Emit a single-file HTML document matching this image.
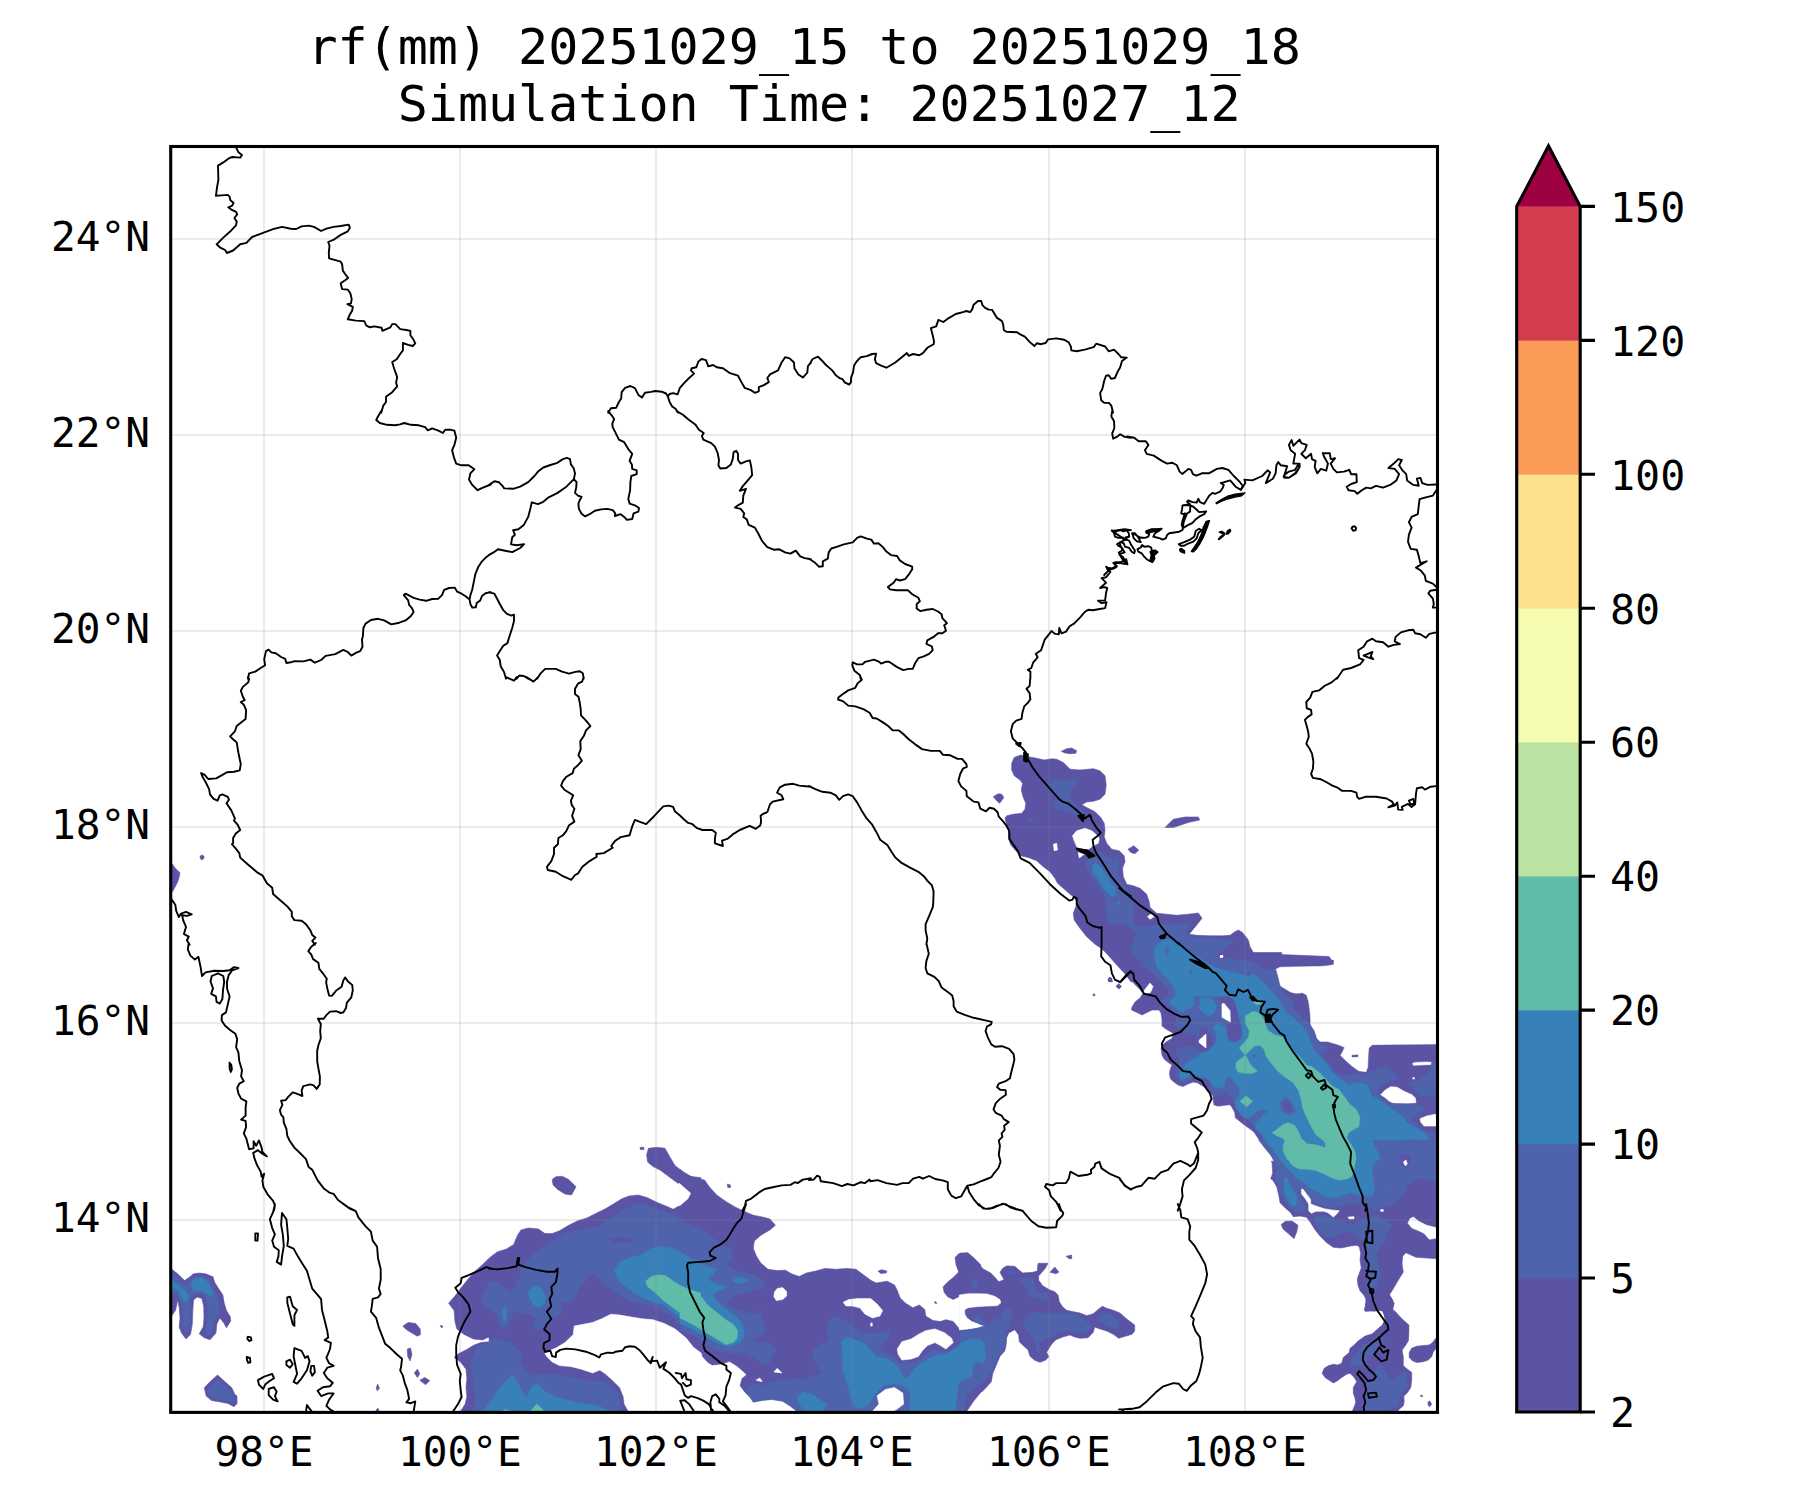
<!DOCTYPE html>
<html lang="en"><head><meta charset="utf-8"><title>rf(mm) 20251029_15 to 20251029_18</title>
<style>html,body{margin:0;padding:0;background:#fff}body{width:1800px;height:1500px;overflow:hidden}svg{display:block}text{font-family:"DejaVu Sans Mono","Liberation Mono",monospace;fill:#000}</style></head><body>
<svg width="1800" height="1500" viewBox="0 0 1800 1500">
<rect width="1800" height="1500" fill="#fff"/>
<defs><clipPath id="ax"><rect x="170.7" y="146.5" width="1266.8" height="1265.9"/></clipPath></defs>
<g clip-path="url(#ax)">
<path d="M1014.2 757.5L1020.8 755.0L1028.3 756.7L1036.7 758.3L1044.2 760.0L1051.7 758.8L1056.7 759.2L1063.3 762.5L1070.0 769.2L1080.0 770.0L1093.3 768.7L1100.0 770.8L1105.0 775.8L1106.2 785.0L1105.0 794.2L1100.0 799.2L1093.3 801.3L1086.7 802.0L1081.7 804.7L1086.7 807.5L1095.0 811.7L1100.8 817.5L1104.2 823.3L1105.0 830.0L1104.2 836.7L1106.7 843.3L1111.7 849.2L1119.2 850.8L1124.2 855.8L1125.0 861.7L1122.5 868.3L1123.3 876.7L1126.7 884.2L1133.3 885.8L1140.0 888.3L1146.7 894.2L1149.2 901.7L1150.0 907.5L1156.7 913.3L1166.7 914.2L1176.7 915.3L1188.3 914.2L1198.3 913.0L1202.0 918.3L1196.7 925.0L1189.2 934.2L1196.7 935.3L1210.0 935.8L1223.3 935.8L1230.0 935.3L1235.0 931.7L1238.3 930.0L1242.5 932.5L1248.3 940.0L1250.0 946.7L1253.3 952.5L1263.3 952.5L1281.7 952.5L1281.7 981.7L1130.8 981.7L1125.0 973.7L1118.3 966.7L1111.7 959.2L1105.0 951.7L1100.8 948.0L1095.0 944.2L1086.7 936.7L1080.0 928.3L1074.2 920.0L1073.3 913.3L1075.8 906.7L1076.7 901.7L1074.2 897.5L1070.0 894.2L1063.3 888.3L1057.5 883.3L1055.0 878.3L1050.0 871.7L1043.3 866.7L1036.7 860.8L1028.3 857.5L1020.8 855.8L1015.8 850.8L1010.8 845.0L1008.3 838.3L1009.2 831.7L1006.7 825.0L1005.0 818.3L1006.7 815.8L1013.3 814.2L1021.7 813.3L1025.0 809.2L1025.8 803.3L1023.0 796.7L1021.3 790.0L1022.5 783.3L1020.0 780.0L1014.2 775.8L1011.7 770.0L1011.7 763.3Z" fill="#5b53a4" stroke="#5b53a4" stroke-width="0.6" stroke-linejoin="round"/>
<path d="M1061.3 751.3L1066.7 748.7L1071.7 748.0L1076.7 750.8L1075.8 753.3L1070.0 753.7L1065.0 753.0Z" fill="#5b53a4" stroke="#5b53a4" stroke-width="0.6" stroke-linejoin="round"/>
<path d="M993.3 796.7L998.3 793.8L1001.7 794.2L1003.8 797.5L999.7 803.3L996.7 800.8Z" fill="#5b53a4" stroke="#5b53a4" stroke-width="0.6" stroke-linejoin="round"/>
<path d="M1165.0 827.5L1173.3 819.2L1185.0 817.0L1198.3 817.0L1199.7 820.0L1188.3 822.5L1180.0 825.3L1173.3 827.5Z" fill="#5b53a4" stroke="#5b53a4" stroke-width="0.6" stroke-linejoin="round"/>
<path d="M1128.0 849.2L1133.7 845.8L1138.7 850.0L1135.0 853.7L1130.8 852.5Z" fill="#5b53a4" stroke="#5b53a4" stroke-width="0.6" stroke-linejoin="round"/>
<path d="M1108.3 980.0L1109.2 977.5L1111.7 979.2L1112.5 981.7L1108.3 981.7Z" fill="#5b53a4" stroke="#5b53a4" stroke-width="0.6" stroke-linejoin="round"/>
<path d="M1200.0 960.0L1440.0 960.0L1440.0 1160.0L1200.0 1160.0Z" fill="#5b53a4"/>
<path d="M1255.3 1140.0L1436.7 1140.0L1436.7 1258.7L1426.7 1258.0L1416.0 1257.3L1406.0 1252.7L1402.7 1256.0L1402.0 1264.0L1403.3 1272.0L1400.0 1277.3L1396.0 1284.0L1392.0 1290.7L1389.3 1294.7L1392.7 1300.0L1393.3 1306.7L1392.0 1311.3L1397.3 1316.0L1404.0 1321.3L1408.7 1325.3L1408.0 1333.3L1408.0 1340.7L1361.3 1340.7L1365.3 1336.0L1372.0 1334.0L1377.3 1329.3L1382.7 1324.7L1386.0 1319.3L1383.3 1311.3L1378.7 1310.0L1374.7 1310.7L1365.3 1311.3L1365.3 1305.3L1366.7 1300.0L1364.0 1294.7L1360.0 1290.7L1358.0 1285.3L1357.3 1278.7L1359.3 1273.3L1361.3 1268.0L1360.0 1260.0L1360.7 1253.3L1359.3 1246.7L1356.7 1245.3L1350.7 1246.0L1341.3 1248.0L1333.3 1247.3L1326.7 1242.7L1320.0 1236.0L1314.7 1229.3L1310.7 1222.7L1306.7 1217.3L1300.0 1216.0L1293.3 1216.7L1290.7 1212.7L1285.3 1208.0L1280.0 1202.7L1278.7 1194.7L1276.7 1186.7L1272.7 1180.0L1270.7 1178.7L1272.7 1173.3L1272.0 1162.7L1269.3 1156.0L1262.7 1149.3L1258.7 1144.0Z" fill="#5b53a4" stroke="#5b53a4" stroke-width="0.6" stroke-linejoin="round"/>
<path d="M1281.1 1224.7L1285.3 1221.3L1292.0 1221.1L1298.0 1225.3L1296.7 1232.0L1294.0 1238.7L1288.0 1233.3L1283.3 1229.3Z" fill="#5b53a4" stroke="#5b53a4" stroke-width="0.6" stroke-linejoin="round"/>
<path d="M1360.0 1290.0L1392.1 1290.0L1389.2 1294.2L1391.7 1299.2L1394.2 1303.3L1392.5 1309.2L1395.8 1312.1L1400.0 1316.7L1405.0 1321.7L1408.8 1325.0L1408.8 1333.3L1408.3 1340.8L1405.8 1345.0L1402.1 1350.0L1403.3 1356.7L1403.3 1365.8L1407.5 1369.2L1411.7 1372.5L1411.7 1380.0L1410.8 1387.5L1407.5 1392.5L1403.8 1396.2L1404.2 1401.7L1403.3 1405.8L1399.2 1409.2L1396.7 1412.5L1351.7 1412.5L1354.2 1406.7L1355.8 1402.5L1355.0 1398.3L1353.3 1393.3L1353.3 1387.5L1356.7 1381.7L1354.2 1377.5L1350.0 1373.3L1346.7 1374.2L1341.7 1377.5L1336.7 1381.2L1333.3 1382.9L1330.0 1380.8L1325.0 1377.5L1322.1 1373.3L1324.2 1368.3L1328.3 1365.8L1333.3 1364.2L1337.5 1365.0L1341.7 1363.3L1343.3 1357.5L1349.2 1352.5L1350.0 1348.3L1354.2 1345.0L1358.3 1340.8L1364.2 1336.7L1369.2 1335.4L1373.3 1335.0L1377.5 1330.8L1382.5 1325.8L1383.3 1323.3L1385.0 1319.2L1384.2 1315.0L1382.5 1310.8L1379.2 1310.0L1375.0 1311.2L1370.8 1310.8L1365.0 1310.8L1364.2 1310.0L1365.8 1305.0L1365.8 1298.3L1363.3 1294.2Z" fill="#5b53a4" stroke="#5b53a4" stroke-width="0.6" stroke-linejoin="round"/>
<path d="M1437.5 1336.7L1435.8 1338.3L1432.5 1342.5L1429.2 1345.0L1424.2 1345.4L1416.7 1346.2L1411.7 1348.3L1409.2 1352.5L1409.2 1357.5L1412.5 1360.8L1416.7 1362.5L1423.3 1361.7L1428.3 1360.0L1431.7 1356.7L1433.3 1351.7L1436.2 1348.3L1437.5 1347.5Z" fill="#5b53a4" stroke="#5b53a4" stroke-width="0.6" stroke-linejoin="round"/>
<path d="M1420.0 1396.2L1421.5 1394.8L1422.9 1396.7Z" fill="#5b53a4" stroke="#5b53a4" stroke-width="0.6" stroke-linejoin="round"/>
<path d="M1427.9 1402.5L1429.6 1400.8L1431.7 1404.2L1429.6 1406.7L1428.3 1405.4Z" fill="#5b53a4" stroke="#5b53a4" stroke-width="0.6" stroke-linejoin="round"/>
<path d="M1119.0 965.0L1125.0 972.0L1130.0 979.0L1134.0 983.5L1140.0 989.5L1143.0 993.5L1140.0 998.0L1135.0 1002.0L1132.0 1007.0L1131.5 1010.0L1136.0 1012.0L1142.0 1015.0L1146.0 1013.0L1152.0 1010.0L1159.0 1010.0L1161.0 1013.0L1162.0 1019.0L1162.0 1026.0L1166.0 1029.0L1170.0 1031.5L1173.0 1033.0L1172.0 1038.5L1166.0 1042.0L1163.0 1044.5L1161.0 1048.0L1162.0 1055.0L1164.0 1059.0L1169.0 1063.0L1172.0 1065.0L1170.0 1070.0L1169.5 1074.0L1170.5 1079.0L1174.0 1082.0L1178.0 1085.0L1183.0 1086.5L1188.0 1084.0L1193.0 1082.0L1198.0 1083.0L1200.5 1085.0L1200.5 965.0Z" fill="#5b53a4" stroke="#5b53a4" stroke-width="0.6" stroke-linejoin="round"/>
<path d="M1108.0 979.5L1110.0 977.0L1112.0 978.5L1111.5 981.5L1109.5 981.5Z" fill="#5b53a4" stroke="#5b53a4" stroke-width="0.6" stroke-linejoin="round"/>
<path d="M1116.0 986.5L1118.5 983.5L1121.5 986.5L1119.0 989.0Z" fill="#5b53a4" stroke="#5b53a4" stroke-width="0.6" stroke-linejoin="round"/>
<path d="M1093.0 994.0L1094.8 994.0L1094.8 995.8L1093.0 995.8Z" fill="#5b53a4" stroke="#5b53a4" stroke-width="0.6" stroke-linejoin="round"/>
<path d="M700.7 1177.6L691.6 1176.7L682.4 1171.2L675.1 1165.7L669.6 1156.5L665.0 1148.3L656.7 1147.3L648.5 1148.3L646.6 1154.7L647.6 1162.0L653.1 1166.6L660.4 1170.3L667.7 1175.8L675.1 1181.3L683.3 1186.8L690.6 1193.2L687.9 1198.7L680.6 1205.1L673.2 1209.3L665.9 1206.0L656.7 1202.3L647.6 1197.8L638.4 1195.0L629.2 1195.9L621.9 1198.7L614.5 1203.3L605.4 1208.8L596.2 1213.3L587.0 1217.9L577.9 1220.7L568.7 1225.3L559.5 1230.8L552.2 1233.5L544.9 1233.5L538.4 1228.9L528.4 1228.0L521.0 1229.9L517.4 1235.4L513.7 1244.5L506.4 1249.1L497.2 1251.9L489.9 1257.4L482.5 1264.7L475.2 1271.1L467.8 1279.4L460.5 1288.5L455.0 1295.9L448.6 1303.2L454.1 1310.5L455.0 1321.5L456.8 1328.9L464.2 1334.4L473.3 1339.0L482.5 1339.9L488.9 1337.1L489.3 1341.7L480.7 1342.6L473.3 1345.4L466.0 1350.0L458.7 1353.6L454.1 1357.3L460.5 1361.9L466.0 1369.2L466.9 1378.4L466.0 1387.6L466.9 1396.7L465.1 1404.1L460.5 1411.4L700.7 1411.4Z" fill="#5b53a4" stroke="#5b53a4" stroke-width="0.6" stroke-linejoin="round"/>
<path d="M552.2 1179.4L555.9 1176.7L562.3 1176.3L568.7 1179.4L576.0 1186.8L571.5 1195.0L565.0 1194.1L557.7 1189.5L553.1 1184.9Z" fill="#5b53a4" stroke="#5b53a4" stroke-width="0.6" stroke-linejoin="round"/>
<path d="M640.2 1147.3L643.9 1147.3L643.9 1149.5L640.2 1149.5Z" fill="#5b53a4" stroke="#5b53a4" stroke-width="0.6" stroke-linejoin="round"/>
<path d="M402.8 1326.1L408.3 1322.5L415.6 1323.4L420.2 1328.9L420.5 1334.4L417.4 1336.2L411.0 1332.5L405.5 1328.9Z" fill="#5b53a4" stroke="#5b53a4" stroke-width="0.6" stroke-linejoin="round"/>
<path d="M440.0 1325.6L443.1 1326.1L441.8 1328.0Z" fill="#5b53a4" stroke="#5b53a4" stroke-width="0.6" stroke-linejoin="round"/>
<path d="M407.3 1349.0L410.6 1348.1L411.9 1354.5L410.1 1361.0L407.7 1356.4Z" fill="#5b53a4" stroke="#5b53a4" stroke-width="0.6" stroke-linejoin="round"/>
<path d="M414.3 1372.9L417.4 1369.2L419.8 1373.8L417.4 1377.5Z" fill="#5b53a4" stroke="#5b53a4" stroke-width="0.6" stroke-linejoin="round"/>
<path d="M419.8 1380.2L424.8 1377.5L429.7 1380.6L425.7 1384.8Z" fill="#5b53a4" stroke="#5b53a4" stroke-width="0.6" stroke-linejoin="round"/>
<path d="M680.0 1169.3L687.3 1175.8L696.5 1177.6L704.8 1180.3L709.3 1186.8L716.7 1195.0L725.8 1201.4L735.0 1206.9L742.3 1210.6L753.3 1215.2L762.5 1217.0L769.9 1218.9L775.4 1225.3L769.9 1229.9L760.7 1235.4L754.3 1240.9L753.3 1248.2L756.1 1255.5L760.7 1262.9L768.0 1269.3L777.2 1270.6L785.4 1270.2L791.9 1273.9L799.2 1276.6L806.5 1272.9L815.7 1271.1L824.9 1268.4L835.9 1269.3L846.9 1268.4L856.0 1269.3L863.4 1274.8L870.7 1280.3L876.2 1283.0L887.2 1281.2L894.5 1284.9L897.3 1290.4L900.0 1297.7L905.6 1303.2L912.9 1307.8L919.3 1305.0L924.8 1309.6L925.7 1316.0L933.1 1320.6L940.4 1321.5L945.9 1319.7L953.2 1321.5L958.7 1328.0L966.1 1328.9L973.4 1327.0L980.7 1326.1L980.7 1411.4L680.0 1411.4Z" fill="#5b53a4" stroke="#5b53a4" stroke-width="0.6" stroke-linejoin="round"/>
<path d="M955.1 1257.4L958.7 1253.7L967.9 1252.8L973.4 1257.4L980.7 1264.7L980.7 1295.9L973.4 1294.0L966.1 1295.0L958.7 1296.8L953.2 1299.5L947.7 1296.8L944.1 1292.2L943.1 1286.7L947.7 1282.1L953.2 1277.5L958.7 1272.0L956.0 1264.7Z" fill="#5b53a4" stroke="#5b53a4" stroke-width="0.6" stroke-linejoin="round"/>
<path d="M964.2 1310.5L969.7 1306.9L980.7 1306.0L980.7 1322.5L971.6 1321.5L966.1 1317.0Z" fill="#5b53a4" stroke="#5b53a4" stroke-width="0.6" stroke-linejoin="round"/>
<path d="M878.0 1271.1L881.7 1269.8L886.8 1271.1L886.3 1272.9L880.8 1273.5Z" fill="#5b53a4" stroke="#5b53a4" stroke-width="0.6" stroke-linejoin="round"/>
<path d="M727.3 1184.0L730.4 1184.9L730.4 1187.7L727.7 1187.3Z" fill="#5b53a4" stroke="#5b53a4" stroke-width="0.6" stroke-linejoin="round"/>
<path d="M934.0 1302.8L935.8 1301.4L936.7 1303.6Z" fill="#5b53a4" stroke="#5b53a4" stroke-width="0.6" stroke-linejoin="round"/>
<path d="M717.6 1388.5L720.7 1384.8L724.0 1388.5L720.7 1392.1Z" fill="#5b53a4" stroke="#5b53a4" stroke-width="0.6" stroke-linejoin="round"/>
<path d="M960.0 1253.0L967.3 1253.0L974.7 1260.3L983.3 1269.0L990.7 1273.0L995.3 1277.7L998.7 1281.7L1004.0 1279.7L1000.0 1272.3L1002.7 1268.3L1006.7 1265.9L1014.7 1266.3L1018.7 1269.7L1022.7 1273.0L1032.7 1272.3L1037.3 1271.0L1038.0 1263.3L1048.0 1263.3L1045.3 1268.3L1041.3 1273.0L1038.7 1275.7L1038.7 1280.3L1042.7 1285.7L1049.3 1289.7L1054.7 1291.7L1058.0 1295.0L1059.3 1301.7L1062.7 1307.0L1066.7 1310.3L1073.3 1311.7L1080.0 1313.0L1086.7 1315.7L1093.3 1313.7L1098.7 1309.0L1102.4 1306.3L1106.7 1308.3L1113.3 1310.3L1120.0 1313.0L1126.7 1319.0L1134.7 1325.0L1134.7 1331.0L1132.0 1334.3L1125.3 1336.3L1118.7 1338.3L1113.3 1334.3L1106.7 1331.0L1100.0 1329.0L1094.7 1327.0L1093.3 1332.3L1088.0 1337.7L1080.0 1338.3L1074.7 1337.0L1070.0 1335.0L1062.7 1337.0L1056.0 1339.7L1052.0 1343.7L1048.0 1349.7L1046.7 1352.3L1048.7 1357.0L1045.3 1360.3L1040.0 1362.3L1034.7 1360.3L1030.0 1356.3L1028.0 1349.7L1023.3 1345.7L1019.3 1341.7L1018.7 1335.0L1014.7 1329.7L1008.7 1333.0L1006.7 1337.7L1006.0 1345.7L1004.7 1351.0L1000.0 1356.3L996.0 1365.7L992.7 1373.7L991.3 1381.7L986.7 1387.0L980.0 1393.7L974.7 1400.3L969.3 1408.3L966.7 1411.7L960.0 1411.7Z" fill="#5b53a4" stroke="#5b53a4" stroke-width="0.6" stroke-linejoin="round"/>
<path d="M1066.0 1256.3L1071.7 1255.0L1071.7 1258.7L1069.3 1258.7Z" fill="#5b53a4" stroke="#5b53a4" stroke-width="0.6" stroke-linejoin="round"/>
<path d="M1050.0 1272.3L1054.7 1267.0L1058.9 1272.1L1056.0 1273.7Z" fill="#5b53a4" stroke="#5b53a4" stroke-width="0.6" stroke-linejoin="round"/>
<path d="M168.0 1265.5L171.8 1269.2L178.5 1274.5L184.5 1280.5L189.0 1277.5L193.5 1273.8L199.5 1273.0L205.5 1273.8L213.0 1276.8L214.5 1282.0L218.2 1288.0L222.8 1294.8L224.2 1303.0L226.5 1310.5L230.2 1316.5L230.7 1321.0L226.5 1327.8L223.5 1322.5L219.8 1318.0L216.8 1324.0L216.0 1333.0L210.0 1339.8L204.0 1337.5L199.2 1333.8L203.2 1327.0L204.0 1318.0L203.7 1306.0L201.8 1298.5L197.2 1297.0L193.5 1300.0L192.8 1310.5L192.3 1324.0L190.5 1334.5L186.0 1339.0L181.5 1333.0L179.2 1327.0L180.0 1318.0L179.2 1307.5L177.8 1300.0L175.5 1310.5L171.8 1315.8L168.0 1318.0Z" fill="#5b53a4" stroke="#5b53a4" stroke-width="0.6" stroke-linejoin="round"/>
<path d="M204.3 1387.8L210.0 1381.8L217.5 1375.0L225.0 1381.8L231.8 1387.8L234.8 1394.5L237.0 1396.0L237.0 1403.5L234.0 1406.8L228.0 1403.5L220.5 1402.0L211.5 1400.5L206.2 1396.0Z" fill="#5b53a4" stroke="#5b53a4" stroke-width="0.6" stroke-linejoin="round"/>
<path d="M376.2 1387.8L377.7 1384.0L379.5 1388.5L377.2 1390.8Z" fill="#5b53a4" stroke="#5b53a4" stroke-width="0.6" stroke-linejoin="round"/>
<path d="M375.8 1411.0L377.7 1408.0L379.2 1411.0Z" fill="#5b53a4" stroke="#5b53a4" stroke-width="0.6" stroke-linejoin="round"/>
<path d="M169.0 861.3L172.3 864.0L175.7 868.7L180.0 872.7L179.0 878.0L177.3 882.7L175.0 887.3L172.3 892.0L169.0 894.0Z" fill="#5b53a4" stroke="#5b53a4" stroke-width="0.6" stroke-linejoin="round"/>
<path d="M200.0 856.3L202.0 854.8L204.0 856.3L204.0 858.3L202.0 860.0L200.2 858.5Z" fill="#5b53a4" stroke="#5b53a4" stroke-width="0.6" stroke-linejoin="round"/>
<path d="M1250.0 953.0L1287.0 954.8L1329.0 956.5L1333.5 962.5L1322.0 965.0L1287.0 966.5L1275.0 970.0L1250.0 970.0Z" fill="#5b53a4" stroke="#5b53a4" stroke-width="0.6" stroke-linejoin="round"/>
<path d="M1072.5 835.8L1076.7 830.8L1085.0 828.3L1091.7 830.8L1096.7 835.0L1099.2 838.3L1098.3 843.3L1093.3 845.8L1088.3 849.2L1081.7 849.2L1076.7 846.7L1074.2 840.8Z" fill="#ffffff" stroke="#ffffff" stroke-width="0.6" stroke-linejoin="round"/>
<path d="M1078.3 852.5L1084.2 854.2L1079.2 858.0Z" fill="#ffffff" stroke="#ffffff" stroke-width="0.6" stroke-linejoin="round"/>
<path d="M1053.3 844.2L1056.7 843.3L1057.5 850.0L1054.2 850.8Z" fill="#ffffff" stroke="#ffffff" stroke-width="0.6" stroke-linejoin="round"/>
<path d="M1147.5 916.7L1151.7 913.3L1154.2 916.7L1150.0 919.2Z" fill="#ffffff" stroke="#ffffff" stroke-width="0.6" stroke-linejoin="round"/>
<path d="M1220.0 955.8L1222.5 955.3L1222.5 957.5L1220.3 957.5Z" fill="#ffffff" stroke="#ffffff" stroke-width="0.6" stroke-linejoin="round"/>
<path d="M1220.3 955.9L1222.8 955.3L1223.0 957.1L1220.9 957.5Z" fill="#ffffff" stroke="#ffffff" stroke-width="0.6" stroke-linejoin="round"/>
<path d="M1334.0 959.3L1334.0 964.7L1326.7 966.0L1320.0 966.4L1306.7 966.7L1293.3 966.9L1280.0 967.3L1274.7 970.0L1272.7 973.3L1274.0 978.7L1277.3 984.0L1282.7 987.3L1290.7 992.0L1296.0 993.3L1302.7 992.7L1306.7 994.9L1308.7 1001.3L1310.0 1010.7L1310.7 1018.7L1310.7 1025.3L1314.7 1030.7L1317.3 1038.7L1320.0 1041.3L1328.0 1041.6L1338.7 1044.7L1344.7 1047.3L1342.7 1052.0L1340.7 1055.3L1345.3 1060.0L1352.0 1066.0L1358.7 1070.7L1366.0 1071.7L1367.7 1066.7L1368.0 1056.0L1368.7 1048.0L1372.0 1044.7L1386.7 1044.4L1400.0 1044.3L1436.0 1044.0L1441.3 1044.0L1441.3 959.3Z" fill="#ffffff" stroke="#ffffff" stroke-width="0.6" stroke-linejoin="round"/>
<path d="M1412.7 1063.3L1416.0 1062.4L1426.7 1062.0L1436.7 1062.7L1436.7 1064.3L1426.7 1064.7L1413.3 1065.3Z" fill="#ffffff" stroke="#ffffff" stroke-width="0.6" stroke-linejoin="round"/>
<path d="M1412.9 1077.6L1414.4 1077.6L1414.4 1079.1L1412.9 1079.1Z" fill="#ffffff" stroke="#ffffff" stroke-width="0.6" stroke-linejoin="round"/>
<path d="M1380.7 1094.7L1385.3 1090.0L1390.7 1086.7L1397.3 1087.3L1404.0 1091.3L1412.0 1094.7L1415.3 1098.0L1416.0 1102.7L1408.0 1103.3L1393.3 1102.9L1389.3 1101.3L1384.7 1097.3Z" fill="#ffffff" stroke="#ffffff" stroke-width="0.6" stroke-linejoin="round"/>
<path d="M1420.0 1118.7L1426.7 1116.0L1436.7 1114.0L1436.7 1126.0L1424.0 1126.0L1420.7 1122.0Z" fill="#ffffff" stroke="#ffffff" stroke-width="0.6" stroke-linejoin="round"/>
<path d="M1199.3 1084.7L1205.3 1088.0L1212.3 1096.0L1213.3 1105.3L1218.0 1106.7L1230.0 1105.3L1234.0 1112.0L1234.9 1118.0L1244.0 1125.3L1253.3 1132.0L1258.7 1140.0L1265.3 1149.3L1272.0 1157.3L1274.7 1160.7L1199.3 1160.7Z" fill="#ffffff" stroke="#ffffff" stroke-width="0.6" stroke-linejoin="round"/>
<path d="M1222.0 1004.0L1224.0 1003.3L1230.0 1010.7L1230.4 1022.0L1222.0 1017.3Z" fill="#ffffff" stroke="#ffffff" stroke-width="0.6" stroke-linejoin="round"/>
<path d="M1199.3 1040.0L1206.0 1034.0L1206.0 1048.0L1199.3 1042.7Z" fill="#ffffff" stroke="#ffffff" stroke-width="0.6" stroke-linejoin="round"/>
<path d="M1235.7 1032.7L1238.0 1032.7L1238.0 1034.3L1235.7 1034.3Z" fill="#ffffff" stroke="#ffffff" stroke-width="0.6" stroke-linejoin="round"/>
<path d="M1301.3 1189.3L1303.3 1188.7L1309.3 1194.7L1310.7 1200.0L1310.7 1204.0L1316.0 1206.0L1324.0 1208.7L1332.0 1210.0L1339.3 1210.7L1336.0 1214.7L1333.3 1217.1L1328.0 1212.7L1324.0 1211.3L1316.0 1211.3L1311.3 1213.3L1308.7 1210.7L1308.7 1204.0L1305.3 1198.7L1301.6 1194.0Z" fill="#ffffff" stroke="#ffffff" stroke-width="0.6" stroke-linejoin="round"/>
<path d="M1348.0 1217.1L1354.0 1216.7L1354.0 1218.7L1349.3 1218.9Z" fill="#ffffff" stroke="#ffffff" stroke-width="0.6" stroke-linejoin="round"/>
<path d="M1380.7 1209.6L1383.3 1209.6L1383.3 1211.3L1380.7 1211.3Z" fill="#ffffff" stroke="#ffffff" stroke-width="0.6" stroke-linejoin="round"/>
<path d="M1408.0 1223.3L1410.0 1218.7L1413.3 1217.1L1418.7 1221.3L1426.7 1225.3L1437.3 1228.0L1437.3 1238.0L1429.3 1239.3L1424.0 1233.3L1418.7 1230.7L1412.0 1228.0Z" fill="#ffffff" stroke="#ffffff" stroke-width="0.6" stroke-linejoin="round"/>
<path d="M1143.0 992.0L1150.0 983.0L1153.0 986.5L1150.5 992.5L1146.0 993.5Z" fill="#ffffff" stroke="#ffffff" stroke-width="0.6" stroke-linejoin="round"/>
<path d="M546.7 1356.4L552.2 1361.9L559.5 1365.6L570.5 1366.5L581.5 1369.2L592.5 1372.9L599.9 1370.1L605.4 1373.8L612.7 1380.2L620.0 1387.6L623.7 1396.7L624.6 1404.1L629.2 1412.3L701.7 1412.3L701.7 1353.6L693.4 1347.2L686.1 1338.0L675.1 1328.9L664.1 1323.4L653.1 1319.7L642.1 1318.8L631.1 1317.0L620.0 1315.1L610.9 1314.2L601.7 1318.8L592.5 1322.5L583.4 1324.3L574.2 1326.1L573.3 1334.4L565.0 1342.6L555.9 1348.1L548.5 1350.9L544.9 1353.6Z" fill="#ffffff" stroke="#ffffff" stroke-width="0.6" stroke-linejoin="round"/>
<path d="M679.1 1339.9L689.2 1343.5L694.7 1350.9L702.0 1356.4L707.5 1362.8L712.1 1365.6L722.2 1364.6L729.5 1361.9L736.8 1366.5L743.3 1372.0L746.0 1374.7L741.4 1378.4L739.6 1385.7L744.2 1392.1L749.7 1397.6L753.3 1402.2L762.5 1400.4L771.7 1399.5L782.7 1401.3L790.0 1405.9L797.4 1412.3L679.1 1412.3Z" fill="#ffffff" stroke="#ffffff" stroke-width="0.6" stroke-linejoin="round"/>
<path d="M774.4 1292.2L777.2 1288.5L782.7 1287.6L786.4 1291.3L786.7 1295.9L782.7 1299.5L776.3 1300.5L773.9 1296.8Z" fill="#ffffff" stroke="#ffffff" stroke-width="0.6" stroke-linejoin="round"/>
<path d="M843.2 1302.3L848.7 1299.5L857.9 1298.6L870.7 1298.6L877.1 1304.1L882.6 1310.5L879.9 1316.0L872.5 1317.9L865.2 1314.2L859.7 1307.8L852.4 1306.0L846.0 1306.0Z" fill="#ffffff" stroke="#ffffff" stroke-width="0.6" stroke-linejoin="round"/>
<path d="M870.7 1323.0L872.2 1323.0L872.2 1326.1L870.7 1326.1Z" fill="#ffffff" stroke="#ffffff" stroke-width="0.6" stroke-linejoin="round"/>
<path d="M897.3 1349.0L901.9 1341.7L911.1 1339.0L918.4 1334.4L925.7 1330.7L934.9 1328.9L944.1 1332.5L951.4 1338.0L953.2 1342.6L945.9 1349.0L940.4 1345.4L934.9 1342.6L927.6 1345.4L922.1 1350.9L918.4 1356.4L911.1 1359.1L901.9 1360.0L898.2 1354.5Z" fill="#ffffff" stroke="#ffffff" stroke-width="0.6" stroke-linejoin="round"/>
<path d="M773.9 1372.0L777.2 1368.3L781.8 1372.9Z" fill="#ffffff" stroke="#ffffff" stroke-width="0.6" stroke-linejoin="round"/>
<path d="M756.1 1380.2L759.8 1378.0L762.2 1381.7Z" fill="#ffffff" stroke="#ffffff" stroke-width="0.6" stroke-linejoin="round"/>
<path d="M679.1 1183.1L683.3 1186.8L690.6 1193.2L687.9 1198.7L680.6 1205.1L679.1 1206.0Z" fill="#ffffff" stroke="#ffffff" stroke-width="0.6" stroke-linejoin="round"/>
<path d="M981.7 1392.1L974.7 1400.4L969.4 1408.3L966.6 1412.3L981.7 1412.3Z" fill="#ffffff" stroke="#ffffff" stroke-width="0.6" stroke-linejoin="round"/>
<path d="M959.3 1295.0L968.0 1293.7L977.3 1293.7L986.7 1293.9L994.7 1296.3L1000.0 1299.7L1000.7 1303.0L997.3 1305.7L986.7 1306.1L976.0 1306.7L968.0 1307.7L964.7 1309.7L964.7 1313.7L966.7 1317.7L972.0 1321.7L980.0 1324.3L984.7 1325.7L977.3 1327.7L968.0 1329.0L959.3 1329.9Z" fill="#ffffff" stroke="#ffffff" stroke-width="0.6" stroke-linejoin="round"/>
<path d="M1049.2 783.3L1053.3 780.0L1061.7 779.2L1070.8 779.7L1078.3 780.8L1077.5 784.2L1072.5 786.7L1070.0 791.7L1070.0 798.3L1073.3 803.3L1080.0 809.2L1086.7 815.0L1085.0 817.5L1078.3 815.8L1070.0 811.7L1060.0 810.0L1053.3 808.3L1051.7 803.3L1056.7 800.0L1051.7 793.3L1048.3 788.3Z" fill="#4e63ac" stroke="#4e63ac" stroke-width="0.6" stroke-linejoin="round"/>
<path d="M1028.3 820.0L1030.8 817.5L1033.7 819.7L1031.3 822.2Z" fill="#4e63ac" stroke="#4e63ac" stroke-width="0.6" stroke-linejoin="round"/>
<path d="M1084.7 863.0L1088.3 859.3L1094.4 854.4L1099.3 852.6L1106.7 856.9L1112.8 859.3L1118.3 858.4L1119.5 861.8L1118.3 869.1L1118.9 876.4L1122.6 883.8L1127.4 889.9L1132.3 896.0L1133.8 903.3L1133.6 915.6L1133.6 922.9L1138.4 926.6L1148.2 926.6L1155.6 925.3L1162.9 923.5L1173.9 924.7L1186.1 923.5L1191.0 924.1L1187.3 930.2L1186.1 933.9L1192.2 937.6L1210.6 937.6L1228.9 940.0L1233.8 940.6L1227.7 946.1L1220.3 952.2L1216.7 955.9L1221.6 959.6L1228.9 957.1L1233.8 959.6L1241.1 963.2L1253.3 963.2L1259.4 968.1L1265.6 970.6L1271.7 969.3L1275.3 968.1L1277.8 976.7L1280.2 986.4L1285.1 996.2L1176.3 996.2L1173.9 990.1L1169.0 984.0L1162.9 976.7L1155.6 970.6L1145.8 964.4L1138.4 959.6L1132.3 954.7L1131.1 947.3L1133.6 940.0L1136.6 932.7L1131.1 927.8L1125.0 924.7L1118.9 924.1L1110.3 922.9L1106.7 918.0L1106.1 909.4L1106.7 900.9L1103.0 893.6L1096.9 885.0L1092.0 877.7L1087.1 869.1Z" fill="#4e63ac" stroke="#4e63ac" stroke-width="0.6" stroke-linejoin="round"/>
<path d="M1352.0 1055.3L1358.0 1054.9L1358.0 1056.7L1352.0 1056.9Z" fill="#5b53a4" stroke="#5b53a4" stroke-width="0.6" stroke-linejoin="round"/>
<path d="M1200.0 960.0L1246.7 960.0L1253.3 962.7L1258.7 965.3L1262.7 969.3L1266.7 976.0L1270.7 981.3L1274.7 986.7L1280.0 992.0L1286.7 996.0L1292.0 1000.0L1293.3 1005.3L1294.7 1010.7L1298.7 1014.7L1302.7 1018.7L1306.7 1020.7L1310.7 1025.3L1313.3 1030.7L1316.0 1038.7L1318.7 1042.7L1324.0 1045.3L1328.0 1048.0L1325.3 1050.7L1322.0 1054.7L1326.7 1060.0L1331.3 1065.3L1333.3 1070.7L1337.3 1072.7L1342.0 1076.0L1348.0 1074.7L1357.3 1074.0L1365.3 1075.3L1373.3 1071.3L1382.0 1066.9L1389.3 1069.3L1393.3 1072.7L1398.0 1076.7L1396.7 1079.6L1390.0 1081.3L1384.0 1084.0L1380.0 1088.0L1378.0 1092.7L1380.7 1096.0L1386.0 1100.7L1390.0 1104.0L1400.0 1104.0L1413.3 1104.0L1422.0 1105.3L1426.0 1109.3L1420.0 1113.3L1411.3 1116.7L1414.7 1122.0L1420.0 1126.7L1422.7 1130.0L1426.7 1132.0L1436.7 1132.0L1436.7 1160.0L1276.7 1160.0L1272.0 1153.3L1266.7 1145.3L1261.3 1137.3L1256.0 1130.7L1253.3 1125.3L1249.3 1120.0L1244.0 1117.3L1240.0 1110.7L1236.0 1104.0L1232.0 1097.3L1226.7 1093.3L1220.0 1094.7L1214.7 1096.0L1211.3 1092.0L1209.3 1086.7L1210.0 1082.0L1205.3 1079.3L1200.0 1078.0Z" fill="#4e63ac" stroke="#4e63ac" stroke-width="0.6" stroke-linejoin="round"/>
<path d="M1408.7 1083.3L1420.0 1078.7L1429.3 1073.3L1432.0 1061.3L1436.7 1058.7L1436.7 1094.7L1429.3 1096.7L1422.0 1096.7L1415.3 1091.3Z" fill="#4e63ac" stroke="#4e63ac" stroke-width="0.6" stroke-linejoin="round"/>
<path d="M1258.7 1140.0L1264.0 1146.7L1270.7 1154.7L1274.7 1162.7L1276.7 1170.7L1274.7 1178.7L1278.7 1186.7L1281.3 1196.0L1285.3 1202.7L1292.0 1209.3L1296.0 1212.7L1302.7 1212.0L1306.7 1209.3L1304.0 1204.0L1300.0 1196.0L1298.7 1189.3L1302.7 1188.0L1310.7 1198.7L1316.0 1204.0L1325.3 1206.7L1333.3 1208.0L1341.3 1205.3L1350.7 1202.7L1360.0 1204.0L1368.0 1206.7L1373.3 1212.0L1380.0 1208.0L1386.7 1206.7L1393.3 1204.0L1400.0 1198.7L1405.3 1193.3L1406.0 1185.3L1413.3 1181.3L1421.3 1178.0L1429.3 1180.0L1436.7 1182.7L1436.7 1140.0Z" fill="#4e63ac" stroke="#4e63ac" stroke-width="0.6" stroke-linejoin="round"/>
<path d="M1314.0 1217.3L1320.0 1214.7L1328.0 1216.0L1334.7 1218.7L1344.0 1221.3L1350.7 1225.3L1357.3 1222.7L1364.0 1218.7L1370.7 1216.0L1376.0 1214.7L1384.0 1218.7L1392.0 1225.3L1386.7 1233.3L1384.0 1241.3L1380.0 1246.7L1376.0 1254.7L1378.7 1262.7L1380.0 1270.7L1380.0 1278.7L1377.3 1286.7L1373.3 1293.3L1369.3 1292.0L1368.0 1285.3L1366.7 1276.0L1366.7 1266.7L1368.0 1257.3L1365.3 1249.3L1365.3 1241.3L1360.0 1238.7L1354.7 1233.3L1349.3 1232.0L1341.3 1233.3L1333.3 1237.3L1326.7 1238.0L1320.0 1232.0L1316.0 1225.3Z" fill="#4e63ac" stroke="#4e63ac" stroke-width="0.6" stroke-linejoin="round"/>
<path d="M1349.2 1364.2L1351.7 1359.2L1357.5 1351.7L1365.0 1344.2L1370.8 1341.2L1375.0 1339.2L1380.0 1337.1L1383.3 1339.2L1386.7 1341.7L1382.5 1344.2L1379.2 1348.3L1375.0 1351.7L1370.8 1355.8L1366.7 1359.2L1365.8 1363.3L1363.3 1365.0L1358.3 1365.4L1353.3 1365.0Z" fill="#4e63ac" stroke="#4e63ac" stroke-width="0.6" stroke-linejoin="round"/>
<path d="M1373.3 1370.0L1377.5 1366.7L1380.8 1365.0L1383.3 1368.3L1385.8 1372.5L1388.3 1380.0L1391.7 1380.0L1398.3 1375.0L1405.8 1372.1L1406.7 1377.5L1407.5 1385.8L1404.2 1390.0L1400.0 1395.0L1399.2 1400.8L1397.5 1405.8L1393.3 1408.3L1388.3 1410.0L1383.3 1412.5L1365.0 1412.5L1365.0 1405.0L1365.8 1398.3L1366.7 1391.7L1365.8 1385.8L1367.5 1381.7L1370.8 1381.7L1375.0 1379.2L1376.7 1375.8L1373.3 1373.3Z" fill="#4e63ac" stroke="#4e63ac" stroke-width="0.6" stroke-linejoin="round"/>
<path d="M1140.0 965.0L1148.0 969.0L1155.0 975.0L1162.0 982.0L1167.5 988.0L1168.5 995.0L1164.0 999.5L1160.0 1000.0L1164.0 1004.0L1170.0 1008.0L1174.0 1012.0L1178.0 1017.0L1175.0 1021.0L1174.0 1025.0L1178.0 1029.0L1184.0 1031.0L1188.0 1033.0L1195.0 1034.0L1199.0 1039.0L1200.5 1041.0L1200.5 965.0Z" fill="#4e63ac" stroke="#4e63ac" stroke-width="0.6" stroke-linejoin="round"/>
<path d="M1177.0 1048.0L1176.0 1052.0L1178.0 1057.0L1180.0 1062.0L1176.0 1068.0L1175.0 1073.0L1177.0 1078.0L1181.0 1082.0L1184.0 1084.0L1188.0 1081.0L1193.0 1078.0L1198.0 1080.0L1200.5 1082.0L1200.5 1050.0L1195.0 1048.0L1185.0 1046.5Z" fill="#4e63ac" stroke="#4e63ac" stroke-width="0.6" stroke-linejoin="round"/>
<path d="M526.5 1261.0L533.9 1253.7L543.0 1248.2L552.2 1242.7L561.4 1235.4L570.5 1231.7L579.7 1229.9L590.7 1228.0L599.9 1226.2L607.2 1220.7L616.4 1215.2L625.6 1208.8L634.7 1205.1L643.9 1204.2L654.9 1208.8L665.9 1212.4L675.1 1215.2L682.4 1220.7L691.6 1226.2L700.7 1229.9L700.7 1336.2L691.6 1330.7L680.6 1325.2L671.4 1316.0L660.4 1310.5L649.4 1305.0L638.4 1303.2L629.2 1301.4L620.0 1295.9L610.9 1288.5L601.7 1281.2L592.5 1273.9L585.2 1279.4L579.7 1286.7L576.0 1295.9L568.7 1301.4L561.4 1303.2L563.2 1310.5L557.7 1316.0L550.4 1317.9L544.9 1325.2L537.5 1330.7L532.0 1325.2L537.5 1317.9L528.4 1314.2L521.0 1312.4L513.7 1310.5L510.0 1321.5L504.5 1330.7L499.0 1325.2L497.2 1314.2L489.9 1308.7L482.5 1303.2L481.6 1295.9L486.2 1286.7L489.9 1281.2L497.2 1281.2L502.7 1286.7L510.0 1292.2L515.5 1286.7L519.2 1277.5L521.0 1268.4Z" fill="#4e63ac" stroke="#4e63ac" stroke-width="0.6" stroke-linejoin="round"/>
<path d="M470.6 1360.0L477.0 1347.2L486.2 1343.5L495.4 1338.0L502.7 1339.9L510.0 1341.7L515.5 1347.2L522.9 1354.5L521.0 1361.9L526.5 1371.1L532.0 1375.6L544.9 1372.9L555.9 1374.7L568.7 1376.6L579.7 1378.4L590.7 1382.1L601.7 1380.2L610.9 1385.7L618.2 1393.1L620.0 1402.2L621.9 1411.4L473.3 1411.4L475.2 1396.7L473.3 1383.9L472.4 1371.1Z" fill="#4e63ac" stroke="#4e63ac" stroke-width="0.6" stroke-linejoin="round"/>
<path d="M680.0 1222.5L691.0 1224.7L700.2 1228.9L709.3 1235.4L718.5 1241.8L727.7 1247.3L733.5 1250.9L732.3 1259.2L725.8 1264.7L731.3 1268.4L742.3 1272.0L753.3 1274.8L762.5 1279.4L764.4 1286.7L757.0 1290.4L746.0 1292.2L735.0 1295.9L727.7 1299.5L725.8 1305.0L735.0 1308.7L746.0 1312.4L755.2 1314.2L760.7 1310.5L762.5 1319.7L765.3 1330.7L760.7 1336.2L753.3 1338.0L757.0 1343.5L766.2 1341.7L773.5 1345.4L776.3 1350.9L771.7 1356.4L769.9 1362.8L766.2 1364.6L757.0 1360.0L747.8 1354.5L740.5 1352.7L731.3 1353.6L722.2 1352.7L713.0 1349.0L705.7 1343.5L698.3 1338.0L691.0 1334.4L680.0 1330.7Z" fill="#4e63ac" stroke="#4e63ac" stroke-width="0.6" stroke-linejoin="round"/>
<path d="M747.8 1387.6L753.3 1383.9L762.5 1385.7L771.7 1382.1L782.7 1380.2L793.7 1378.4L804.7 1379.3L812.0 1376.6L821.2 1372.9L817.5 1365.6L812.0 1358.2L813.9 1349.0L821.2 1345.4L828.5 1339.9L826.7 1330.7L828.5 1321.5L832.2 1316.0L841.4 1318.8L850.5 1323.4L856.0 1328.9L863.4 1332.5L872.5 1333.5L881.7 1332.5L890.0 1331.6L889.0 1338.0L881.7 1343.5L879.9 1349.0L887.2 1352.7L894.5 1356.4L900.0 1362.8L911.1 1362.8L920.2 1360.0L927.6 1352.7L934.9 1349.0L942.2 1352.7L949.6 1350.9L956.9 1345.4L962.4 1339.9L969.7 1334.4L980.7 1330.7L980.7 1384.3L973.4 1388.3L968.1 1392.3L965.3 1401.7L964.0 1411.6L797.4 1411.4L790.0 1405.9L782.7 1401.3L771.7 1399.5L762.5 1400.4L753.3 1402.2L749.7 1396.7L746.9 1391.2Z" fill="#4e63ac" stroke="#4e63ac" stroke-width="0.6" stroke-linejoin="round"/>
<path d="M971.6 1280.3L975.2 1279.4L978.0 1286.7L974.3 1288.5Z" fill="#4e63ac" stroke="#4e63ac" stroke-width="0.6" stroke-linejoin="round"/>
<path d="M972.5 1316.0L977.1 1314.2L980.7 1316.0L980.7 1320.6L975.2 1320.6Z" fill="#4e63ac" stroke="#4e63ac" stroke-width="0.6" stroke-linejoin="round"/>
<path d="M1006.0 1271.7L1012.0 1271.0L1015.3 1273.0L1010.7 1274.3Z" fill="#4e63ac" stroke="#4e63ac" stroke-width="0.6" stroke-linejoin="round"/>
<path d="M971.3 1279.7L976.0 1279.0L978.7 1287.0L974.7 1288.3Z" fill="#4e63ac" stroke="#4e63ac" stroke-width="0.6" stroke-linejoin="round"/>
<path d="M1019.3 1279.7L1025.3 1277.7L1032.0 1277.4L1034.0 1281.7L1034.7 1287.0L1038.7 1292.3L1044.0 1293.7L1048.0 1294.3L1048.0 1302.3L1041.3 1299.7L1034.7 1298.3L1029.3 1295.7L1027.3 1289.7L1024.0 1284.3Z" fill="#4e63ac" stroke="#4e63ac" stroke-width="0.6" stroke-linejoin="round"/>
<path d="M1023.3 1325.7L1026.0 1319.0L1029.3 1313.7L1036.0 1312.3L1045.3 1313.7L1053.3 1313.0L1061.3 1313.0L1070.7 1313.7L1078.7 1315.0L1084.0 1319.7L1089.3 1324.3L1091.3 1327.7L1088.0 1331.7L1082.7 1333.0L1076.0 1332.3L1069.3 1330.3L1062.7 1331.7L1056.0 1334.3L1049.3 1337.7L1042.7 1340.3L1038.7 1343.7L1040.0 1349.7L1038.7 1354.3L1036.0 1349.7L1035.3 1343.0L1032.0 1336.3L1026.7 1331.0Z" fill="#4e63ac" stroke="#4e63ac" stroke-width="0.6" stroke-linejoin="round"/>
<path d="M1096.0 1317.7L1100.0 1314.3L1103.3 1312.3L1109.3 1314.3L1116.0 1318.3L1120.0 1323.0L1119.3 1327.0L1114.7 1328.3L1108.0 1326.3L1101.3 1323.0Z" fill="#4e63ac" stroke="#4e63ac" stroke-width="0.6" stroke-linejoin="round"/>
<path d="M972.7 1319.0L973.3 1316.3L978.7 1319.7L984.7 1321.0L986.7 1325.7L993.3 1320.3L1000.0 1317.7L1002.7 1311.0L1006.7 1307.0L1012.0 1310.3L1011.3 1319.0L1009.3 1325.7L1006.7 1331.0L1005.3 1337.7L1004.7 1345.7L1002.7 1351.0L998.7 1355.0L994.7 1364.3L991.3 1372.3L986.7 1379.0L980.0 1384.3L973.3 1388.3L968.0 1392.3L965.3 1401.7L964.0 1411.7L960.0 1411.7L960.0 1332.3L968.0 1330.3L977.3 1328.3L984.7 1325.9L980.0 1324.3L974.7 1321.7Z" fill="#4e63ac" stroke="#4e63ac" stroke-width="0.6" stroke-linejoin="round"/>
<path d="M168.0 1270.0L171.8 1273.0L178.5 1279.0L184.5 1285.0L190.5 1279.0L196.5 1276.0L204.0 1276.8L210.0 1280.5L213.0 1288.0L217.5 1295.5L219.8 1303.0L219.0 1310.5L216.0 1318.0L213.0 1325.5L211.5 1333.0L208.5 1336.0L205.5 1331.5L207.0 1321.0L207.8 1307.5L205.5 1297.0L201.0 1293.2L195.0 1294.0L191.2 1298.5L189.8 1307.5L189.8 1321.0L188.2 1330.0L185.2 1332.2L183.0 1327.0L183.0 1315.0L181.5 1304.5L179.2 1297.0L175.5 1294.0L171.8 1294.0L168.0 1297.0Z" fill="#4e63ac" stroke="#4e63ac" stroke-width="0.6" stroke-linejoin="round"/>
<path d="M207.8 1390.0L213.0 1384.0L217.5 1380.2L223.5 1384.0L229.5 1390.0L233.2 1396.0L234.8 1402.0L229.5 1401.2L222.0 1399.8L213.0 1398.2L208.5 1394.5Z" fill="#4e63ac" stroke="#4e63ac" stroke-width="0.6" stroke-linejoin="round"/>
<path d="M1217.3 994.9L1222.0 993.3L1226.7 995.7L1233.3 999.7L1236.3 1006.7L1237.6 1016.0L1240.3 1024.0L1241.6 1032.0L1240.0 1038.7L1234.9 1041.3L1229.6 1040.0L1226.9 1034.7L1226.3 1026.7L1230.4 1022.0L1230.0 1010.7L1224.0 1003.3L1221.3 1000.0L1218.0 998.7Z" fill="#5b53a4" stroke="#5b53a4" stroke-width="0.6" stroke-linejoin="round"/>
<path d="M1200.0 1029.3L1205.3 1028.0L1210.7 1034.7L1212.7 1041.3L1210.7 1048.0L1206.7 1052.0L1200.0 1053.3Z" fill="#5b53a4" stroke="#5b53a4" stroke-width="0.6" stroke-linejoin="round"/>
<path d="M1400.7 1157.3L1405.3 1153.3L1410.7 1158.0L1408.7 1164.0L1405.3 1168.0L1401.3 1164.0Z" fill="#5b53a4" stroke="#5b53a4" stroke-width="0.6" stroke-linejoin="round"/>
<path d="M608.1 1239.0L616.4 1237.2L632.9 1239.9L631.1 1241.8L614.5 1241.8Z" fill="#5b53a4" stroke="#5b53a4" stroke-width="0.6" stroke-linejoin="round"/>
<path d="M1222.0 1004.0L1224.0 1003.3L1230.0 1010.7L1230.4 1022.0L1222.0 1017.3Z" fill="#ffffff" stroke="#ffffff" stroke-width="0.6" stroke-linejoin="round"/>
<path d="M1199.3 1040.0L1206.0 1034.0L1206.0 1048.0L1199.3 1042.7Z" fill="#ffffff" stroke="#ffffff" stroke-width="0.6" stroke-linejoin="round"/>
<path d="M1403.3 1162.0L1406.0 1160.0L1407.3 1164.0L1405.3 1166.0Z" fill="#ffffff" stroke="#ffffff" stroke-width="0.6" stroke-linejoin="round"/>
<path d="M1092.0 865.4L1095.1 862.8L1099.3 865.4L1104.2 871.6L1109.1 878.9L1112.8 885.0L1115.8 889.9L1115.2 896.0L1111.6 896.6L1106.7 892.3L1101.8 885.0L1096.9 877.7L1093.2 871.6Z" fill="#3880b9" stroke="#3880b9" stroke-width="0.6" stroke-linejoin="round"/>
<path d="M1117.1 902.7L1118.9 900.9L1120.1 903.3L1118.6 905.8Z" fill="#3880b9" stroke="#3880b9" stroke-width="0.6" stroke-linejoin="round"/>
<path d="M1154.3 947.3L1158.0 943.7L1162.9 940.6L1167.8 939.4L1173.9 941.2L1180.0 944.9L1187.3 949.8L1194.7 954.7L1202.0 959.6L1209.3 964.4L1216.7 968.1L1224.0 970.6L1231.3 972.4L1241.1 974.2L1248.4 976.7L1253.3 974.2L1257.0 976.7L1261.9 981.6L1268.0 987.7L1271.7 992.6L1273.5 996.2L1176.9 996.2L1175.1 988.9L1170.2 981.6L1164.1 975.4L1158.0 969.3L1155.6 962.0L1154.3 954.7Z" fill="#3880b9" stroke="#3880b9" stroke-width="0.6" stroke-linejoin="round"/>
<path d="M1200.0 960.0L1208.0 964.0L1216.7 968.0L1231.3 972.4L1248.0 976.7L1253.3 974.0L1257.3 976.7L1268.0 987.6L1274.7 994.7L1278.7 1000.0L1282.7 1006.7L1286.7 1013.3L1293.3 1017.3L1298.7 1022.7L1304.0 1028.0L1308.0 1034.7L1310.7 1042.7L1313.3 1049.3L1320.0 1056.0L1326.7 1064.0L1333.3 1073.3L1340.0 1078.7L1348.7 1084.7L1354.7 1083.3L1361.3 1082.9L1368.7 1086.0L1369.6 1091.3L1372.0 1096.0L1380.0 1100.0L1386.7 1105.3L1393.3 1110.0L1403.3 1116.7L1406.0 1122.0L1413.3 1126.0L1420.0 1130.0L1426.7 1134.7L1428.0 1140.0L1413.3 1139.3L1400.0 1140.0L1386.7 1140.0L1372.0 1140.0L1374.7 1146.7L1378.7 1153.3L1380.0 1160.0L1280.0 1160.0L1274.7 1152.0L1268.0 1142.7L1261.3 1133.3L1256.0 1128.0L1254.7 1124.0L1260.0 1118.7L1268.0 1110.7L1262.7 1109.3L1256.0 1112.0L1250.7 1117.3L1245.3 1118.7L1240.0 1113.3L1236.0 1108.0L1234.7 1101.3L1238.7 1096.0L1240.0 1088.0L1234.7 1082.7L1232.0 1078.7L1228.7 1076.0L1225.3 1080.0L1224.0 1086.7L1217.3 1088.0L1212.0 1085.3L1210.7 1080.0L1205.3 1077.3L1200.0 1076.0L1200.0 1053.3L1206.7 1052.0L1210.7 1048.0L1214.7 1045.3L1217.3 1040.0L1215.3 1033.3L1213.3 1026.7L1217.3 1024.0L1222.7 1025.3L1226.7 1029.3L1226.7 1036.0L1229.3 1041.3L1234.7 1042.7L1240.0 1040.0L1242.7 1034.7L1241.3 1026.7L1240.0 1020.0L1237.3 1010.7L1236.0 1004.0L1233.3 998.7L1226.7 994.7L1221.3 992.0L1217.3 991.3L1208.0 993.3L1200.0 996.0Z" fill="#3880b9" stroke="#3880b9" stroke-width="0.6" stroke-linejoin="round"/>
<path d="M1200.0 998.7L1206.7 997.3L1213.3 1000.0L1216.7 1005.3L1214.7 1012.0L1209.3 1016.0L1204.0 1013.3L1200.0 1009.3Z" fill="#3880b9" stroke="#3880b9" stroke-width="0.6" stroke-linejoin="round"/>
<path d="M1265.3 1140.0L1272.0 1148.0L1278.7 1157.3L1285.3 1166.7L1290.7 1172.0L1296.0 1177.3L1304.0 1182.7L1312.0 1189.3L1320.0 1193.3L1328.0 1197.3L1336.0 1198.0L1344.0 1194.7L1350.7 1192.7L1357.3 1194.7L1365.3 1196.7L1373.3 1194.7L1374.7 1189.3L1373.3 1180.0L1372.0 1170.7L1374.7 1162.7L1378.7 1156.0L1376.0 1149.3L1373.3 1144.0L1372.0 1140.0Z" fill="#3880b9" stroke="#3880b9" stroke-width="0.6" stroke-linejoin="round"/>
<path d="M1284.0 1178.7L1287.3 1178.0L1289.3 1184.0L1293.3 1190.7L1297.3 1197.3L1296.0 1204.0L1293.3 1206.7L1288.0 1200.0L1284.7 1193.3L1284.0 1185.3Z" fill="#3880b9" stroke="#3880b9" stroke-width="0.6" stroke-linejoin="round"/>
<path d="M1389.3 1186.0L1390.9 1186.7L1390.0 1188.0Z" fill="#3880b9" stroke="#3880b9" stroke-width="0.6" stroke-linejoin="round"/>
<path d="M1155.0 965.0L1160.0 969.0L1165.0 974.0L1170.0 979.0L1175.0 985.0L1175.0 991.0L1176.0 995.0L1172.0 999.0L1169.0 1002.0L1172.0 1005.0L1177.0 1009.0L1182.0 1012.0L1186.0 1009.0L1190.0 1007.5L1194.0 1005.0L1193.0 999.0L1194.0 995.0L1200.5 993.5L1200.5 965.0Z" fill="#3880b9" stroke="#3880b9" stroke-width="0.6" stroke-linejoin="round"/>
<path d="M1190.0 1061.0L1195.0 1058.0L1200.5 1055.0L1200.5 1077.0L1197.0 1075.0L1193.0 1073.0L1190.0 1075.0L1186.0 1078.0L1182.0 1080.0L1179.5 1077.0L1180.0 1073.0L1183.0 1068.0L1186.0 1064.0Z" fill="#3880b9" stroke="#3880b9" stroke-width="0.6" stroke-linejoin="round"/>
<path d="M614.5 1268.4L621.9 1261.0L631.1 1257.4L642.1 1254.6L651.2 1248.2L660.4 1246.4L671.4 1248.2L680.6 1251.9L691.6 1259.2L700.7 1261.0L700.7 1328.9L691.6 1323.4L682.4 1319.7L673.2 1312.4L664.1 1305.0L653.1 1301.4L642.1 1297.7L632.9 1292.2L623.7 1284.9L616.4 1277.5Z" fill="#3880b9" stroke="#3880b9" stroke-width="0.6" stroke-linejoin="round"/>
<path d="M528.4 1292.2L532.0 1286.7L536.6 1284.9L541.2 1288.5L545.8 1295.9L544.9 1303.2L539.4 1307.8L533.9 1305.0L530.2 1299.5Z" fill="#3880b9" stroke="#3880b9" stroke-width="0.6" stroke-linejoin="round"/>
<path d="M502.7 1308.7L504.9 1306.0L506.7 1310.5L506.0 1319.7L504.2 1322.5L502.7 1316.0Z" fill="#3880b9" stroke="#3880b9" stroke-width="0.6" stroke-linejoin="round"/>
<path d="M482.5 1411.4L491.7 1400.4L497.2 1391.2L504.5 1382.1L512.8 1374.7L517.4 1382.1L521.0 1389.4L526.5 1396.7L532.0 1385.7L537.5 1383.9L544.9 1391.2L554.0 1396.7L565.0 1399.5L576.0 1402.2L587.0 1404.1L598.0 1405.9L607.2 1409.6L610.9 1411.4Z" fill="#3880b9" stroke="#3880b9" stroke-width="0.6" stroke-linejoin="round"/>
<path d="M680.0 1253.7L688.3 1259.2L698.3 1262.9L707.5 1266.5L716.7 1268.4L713.0 1273.9L707.5 1279.4L718.5 1284.9L727.7 1286.7L720.3 1290.4L713.0 1294.0L716.7 1301.4L725.8 1308.7L735.0 1316.0L740.5 1321.5L744.2 1328.9L743.3 1338.0L738.7 1343.5L731.3 1346.3L724.0 1345.4L714.8 1341.7L705.7 1336.2L696.5 1331.6L687.3 1327.0L680.0 1323.4Z" fill="#3880b9" stroke="#3880b9" stroke-width="0.6" stroke-linejoin="round"/>
<path d="M732.3 1280.3L736.8 1277.9L743.3 1277.9L747.8 1280.3L743.3 1283.0L735.0 1283.0Z" fill="#3880b9" stroke="#3880b9" stroke-width="0.6" stroke-linejoin="round"/>
<path d="M841.4 1341.7L846.9 1337.1L856.0 1339.9L865.2 1343.5L870.7 1350.9L876.2 1356.4L885.4 1358.2L892.7 1361.9L900.0 1369.2L903.7 1378.4L909.2 1376.6L914.7 1369.2L920.2 1363.7L929.4 1358.2L938.6 1354.5L945.9 1353.6L953.2 1350.0L960.6 1345.4L966.1 1341.3L971.9 1339.0L980.7 1339.7L980.7 1361.9L976.0 1361.0L972.7 1365.7L971.9 1371.1L972.7 1373.6L968.1 1378.4L962.8 1379.3L958.7 1383.9L956.9 1396.7L955.1 1411.4L909.2 1411.4L911.1 1396.7L907.4 1387.6L902.8 1385.7L894.5 1383.9L883.5 1385.7L874.4 1394.9L868.9 1404.1L861.5 1408.6L854.2 1406.8L850.5 1396.7L848.7 1387.6L845.0 1378.4L842.3 1369.2L843.2 1360.0L842.3 1350.9Z" fill="#3880b9" stroke="#3880b9" stroke-width="0.6" stroke-linejoin="round"/>
<path d="M797.4 1396.7L802.9 1392.1L812.0 1394.0L821.2 1400.4L826.7 1404.1L823.0 1411.4L804.7 1411.4L799.2 1404.1Z" fill="#3880b9" stroke="#3880b9" stroke-width="0.6" stroke-linejoin="round"/>
<path d="M960.0 1379.0L960.0 1343.0L965.3 1341.0L972.0 1339.0L980.0 1339.7L984.0 1343.0L984.7 1349.7L986.0 1356.3L984.0 1363.0L976.0 1361.0L972.7 1365.7L972.0 1371.0L972.7 1373.7L968.0 1378.3L962.7 1379.3Z" fill="#3880b9" stroke="#3880b9" stroke-width="0.6" stroke-linejoin="round"/>
<path d="M168.0 1276.0L171.8 1279.0L174.0 1282.0L180.0 1286.5L186.0 1291.0L189.0 1297.0L186.0 1303.0L182.2 1298.5L178.5 1291.0L174.0 1288.0L171.8 1289.5L168.0 1290.2Z" fill="#3880b9" stroke="#3880b9" stroke-width="0.6" stroke-linejoin="round"/>
<path d="M191.2 1283.5L195.0 1279.0L201.0 1277.5L206.2 1280.5L210.0 1286.5L213.0 1292.5L211.5 1297.0L207.0 1294.0L202.5 1291.0L196.5 1291.0L192.8 1289.5Z" fill="#3880b9" stroke="#3880b9" stroke-width="0.6" stroke-linejoin="round"/>
<path d="M1165.3 947.9L1167.8 947.3L1168.8 950.4L1166.6 955.9L1165.1 952.2Z" fill="#4e63ac" stroke="#4e63ac" stroke-width="0.6" stroke-linejoin="round"/>
<path d="M1189.2 971.8L1190.8 969.9L1192.0 972.0L1190.5 973.6Z" fill="#4e63ac" stroke="#4e63ac" stroke-width="0.6" stroke-linejoin="round"/>
<path d="M1253.3 1011.3L1245.3 1016.0L1245.3 1022.7L1249.3 1030.7L1248.7 1037.3L1244.0 1042.7L1239.3 1048.0L1245.3 1055.3L1249.3 1050.7L1254.7 1046.0L1260.0 1045.3L1264.0 1049.3L1266.0 1056.0L1270.7 1062.7L1277.3 1070.7L1285.3 1077.3L1293.3 1082.7L1298.7 1090.7L1301.3 1100.0L1302.7 1108.0L1306.7 1117.3L1312.0 1128.0L1316.0 1134.7L1322.7 1140.0L1326.0 1144.0L1325.3 1148.0L1317.3 1145.3L1306.7 1144.0L1301.3 1138.7L1298.7 1132.0L1294.7 1125.3L1288.0 1122.7L1282.7 1124.7L1277.3 1129.3L1272.0 1132.7L1277.3 1136.0L1284.0 1138.7L1285.3 1142.7L1282.7 1149.3L1285.3 1156.0L1288.0 1160.0L1356.0 1160.0L1353.3 1153.3L1350.7 1146.7L1346.7 1137.3L1349.3 1132.0L1358.7 1126.7L1360.0 1117.3L1356.0 1109.3L1349.3 1104.0L1344.0 1096.0L1338.7 1089.3L1332.0 1086.0L1325.3 1078.7L1318.7 1072.0L1312.0 1066.7L1306.7 1065.3L1301.3 1058.7L1293.3 1050.7L1286.7 1042.7L1282.7 1037.3L1274.7 1034.7L1268.0 1030.7L1265.3 1024.0L1262.7 1017.3L1258.7 1012.7Z" fill="#60bba8" stroke="#60bba8" stroke-width="0.6" stroke-linejoin="round"/>
<path d="M1253.3 1002.7L1258.7 1000.7L1263.3 1001.1L1262.7 1003.3L1257.3 1004.7Z" fill="#60bba8" stroke="#60bba8" stroke-width="0.6" stroke-linejoin="round"/>
<path d="M1236.0 1062.7L1240.0 1059.3L1245.3 1055.3L1246.7 1057.3L1249.3 1062.7L1253.3 1068.0L1257.3 1070.7L1253.3 1073.3L1245.3 1073.3L1238.0 1072.0L1236.0 1068.0Z" fill="#60bba8" stroke="#60bba8" stroke-width="0.6" stroke-linejoin="round"/>
<path d="M1240.0 1101.3L1246.0 1096.0L1252.7 1101.3L1246.7 1106.7Z" fill="#60bba8" stroke="#60bba8" stroke-width="0.6" stroke-linejoin="round"/>
<path d="M1285.3 1140.0L1283.3 1145.3L1285.3 1152.0L1288.7 1160.0L1292.0 1165.3L1298.7 1168.7L1306.7 1169.3L1314.7 1170.0L1322.7 1173.3L1330.7 1177.3L1338.7 1180.0L1345.3 1179.3L1350.7 1177.3L1353.3 1173.3L1354.7 1165.3L1356.0 1157.3L1354.7 1150.7L1350.7 1144.0L1346.7 1140.0L1326.7 1140.0L1326.0 1144.0L1325.3 1148.0L1317.3 1145.3L1306.7 1144.0L1302.7 1140.0Z" fill="#60bba8" stroke="#60bba8" stroke-width="0.6" stroke-linejoin="round"/>
<path d="M1189.0 971.5L1190.5 970.0L1191.8 971.8L1190.3 973.5Z" fill="#4e63ac" stroke="#4e63ac" stroke-width="0.6" stroke-linejoin="round"/>
<path d="M645.7 1281.2L651.2 1276.6L658.6 1274.8L665.9 1275.7L673.2 1281.2L682.4 1286.7L691.6 1290.4L700.7 1293.1L700.7 1321.5L691.6 1318.8L684.2 1316.0L676.9 1310.5L669.6 1305.0L662.2 1299.5L654.9 1292.2L647.6 1286.7Z" fill="#60bba8" stroke="#60bba8" stroke-width="0.6" stroke-linejoin="round"/>
<path d="M530.2 1411.4L536.6 1404.1L544.9 1411.4Z" fill="#60bba8" stroke="#60bba8" stroke-width="0.6" stroke-linejoin="round"/>
<path d="M501.8 1411.4L505.4 1409.6L511.9 1411.4Z" fill="#60bba8" stroke="#60bba8" stroke-width="0.6" stroke-linejoin="round"/>
<path d="M680.0 1286.7L687.3 1289.4L696.5 1292.2L702.0 1297.7L707.5 1305.0L716.7 1312.4L725.8 1319.7L733.2 1324.3L737.8 1330.7L736.8 1339.0L733.2 1342.6L725.8 1344.5L718.5 1339.9L709.3 1334.4L700.2 1328.9L691.0 1323.4L680.0 1317.9Z" fill="#60bba8" stroke="#60bba8" stroke-width="0.6" stroke-linejoin="round"/>
<path d="M874.4 1394.9L883.5 1386.6L894.5 1384.8L905.2 1391.6L906.5 1405.0L900.0 1412.3L868.0 1412.3L876.2 1404.1Z" fill="#4e63ac" stroke="#4e63ac" stroke-width="0.6" stroke-linejoin="round"/>
<path d="M1280.0 1102.7L1285.3 1096.7L1292.0 1103.3L1296.0 1111.3L1288.0 1114.7L1281.3 1110.0Z" fill="#4e63ac" stroke="#4e63ac" stroke-width="0.6" stroke-linejoin="round"/>
<path d="M1252.7 1055.3L1254.7 1054.7L1255.3 1056.7L1253.3 1058.0Z" fill="#4e63ac" stroke="#4e63ac" stroke-width="0.6" stroke-linejoin="round"/>
<path d="M877.1 1395.8L885.4 1389.4L894.5 1387.6L902.8 1393.1L903.7 1404.1L896.4 1409.6L890.9 1412.3L871.6 1412.3L879.0 1404.1Z" fill="#ffffff" stroke="#ffffff" stroke-width="0.6" stroke-linejoin="round"/>
<path d="M1283.3 1103.3L1286.0 1100.0L1290.0 1105.3L1292.0 1110.0L1288.0 1111.3L1284.7 1108.0Z" fill="#5b53a4" stroke="#5b53a4" stroke-width="0.6" stroke-linejoin="round"/>
<path d="M264 146.5V1412.4M460 146.5V1412.4M656 146.5V1412.4M852 146.5V1412.4M1049 146.5V1412.4M1245 146.5V1412.4" fill="none" stroke="#808080" stroke-opacity="0.155" stroke-width="2"/>
<path d="M170.7 1220H1437.5M170.7 1023H1437.5M170.7 827H1437.5M170.7 631H1437.5M170.7 435H1437.5M170.7 239H1437.5" fill="none" stroke="#808080" stroke-opacity="0.155" stroke-width="2"/>
<path d="M235.4 146.0L238.4 152.2L242.0 154.9L240.2 157.6L232.2 157.0L228.7 158.4L223.3 162.4L218.0 165.6L218.4 179.8L217.1 186.9L215.9 195.8L221.6 195.4L227.8 194.9L229.6 196.7L230.4 200.2L233.6 202.9L232.2 205.6L228.3 207.3L231.3 209.6L236.1 211.8L237.2 214.4L234.4 218.0L236.7 221.6L236.1 225.1L230.4 231.3L223.3 237.6L216.6 244.3L219.8 247.3L225.1 250.0L226.9 253.0L233.1 250.5L240.2 244.3L246.4 242.9L252.1 237.0L262.4 233.1L273.1 229.2L282.0 226.9L290.9 228.7L296.2 229.0L301.6 226.4L308.7 225.6L314.0 226.9L321.1 231.0L326.4 228.7L333.6 226.9L340.7 226.0L348.7 224.6L349.9 227.8L347.8 231.3L340.7 234.9L334.4 239.3L328.2 242.0L329.5 245.6L328.8 252.7L329.1 258.4L335.3 260.1L340.7 261.6L342.1 264.2L342.8 270.4L345.1 274.0L348.1 277.9L345.1 280.2L340.7 283.2L342.1 289.1L347.8 289.6L350.4 293.6L351.7 298.9L351.0 303.3L347.4 304.2L352.8 306.9L352.2 310.4L349.6 314.9L347.8 319.3L355.8 320.6L364.3 321.1L366.4 325.6L370.0 327.3L374.4 326.4L381.6 327.7L382.4 330.9L390.4 327.3L392.2 324.1L395.4 324.1L400.2 329.1L406.4 330.0L410.4 330.9L410.4 335.3L413.6 339.8L415.3 343.3L412.7 346.0L408.2 344.8L402.9 343.0L402.9 350.4L400.2 354.0L396.7 359.3L392.2 362.0L394.0 368.2L397.2 377.1L396.1 382.4L397.2 386.4L392.2 392.2L386.0 396.7L386.0 402.0L383.3 405.6L381.2 412.7M608.2 412.7L610.9 408.2L616.2 407.7L618.9 402.0L621.2 398.4L621.6 392.2L625.1 387.8L630.4 386.0L634.9 388.1L638.4 394.9L642.0 397.6L645.0 392.8L650.9 391.9L655.3 391.0L661.6 391.7L666.0 393.5L667.8 396.3L669.6 402.0L672.2 406.4L675.8 409.1L678.1 412.7M667.8 396.3L669.6 394.0L673.1 393.1L677.6 394.4L679.9 387.8L683.8 383.3L689.1 378.0L694.1 373.6L690.9 370.4L691.8 368.2L696.2 367.3L698.4 361.5L701.6 359.0L706.0 360.2L708.3 366.4L713.1 365.0L716.7 367.3L722.9 368.2L730.0 373.2L738.0 375.7L741.6 382.4L744.6 387.8L750.4 389.9L754.9 392.8L758.8 391.3L758.8 387.2L763.8 385.1L768.8 382.1L767.3 378.0L770.0 374.4L778.0 370.4L781.6 362.5L785.1 357.2L789.6 358.4L794.0 362.5L794.4 368.2L798.4 374.4L802.9 377.6L807.3 372.7L807.9 366.1L810.9 362.9M809.1 364.7L812.7 359.0L818.0 356.7L821.6 360.2L826.0 365.0L832.2 370.4L835.8 375.3L840.2 378.5L842.4 378.9L844.7 382.4L849.1 384.6L850.9 382.4L851.2 377.1L853.0 372.7L854.1 365.6L856.6 361.5L860.7 357.2L866.9 356.1L872.2 354.0L876.1 353.6L874.9 359.3L876.1 363.2L881.1 365.6L886.4 367.7L895.3 362.5L902.4 356.7L906.9 353.1L908.7 355.8L913.1 354.0L919.3 355.2L922.9 353.1L927.3 347.8L933.6 344.2L934.1 341.6L932.7 335.3L930.9 328.2L936.2 326.4L938.4 319.9L943.3 322.0L948.7 318.1L955.8 314.0L963.8 311.9L966.4 311.0L970.0 312.2L972.1 309.6L973.6 304.8L978.0 301.0L981.2 301.0L982.4 305.1L985.1 307.8L988.7 309.6L992.2 309.9L996.7 317.6L1002.0 321.1L1003.2 324.7L1003.8 330.0L1006.4 331.8L1017.1 332.3L1019.8 334.1L1024.8 336.6L1029.6 341.9L1034.4 346.0L1036.7 343.3L1041.1 344.2L1045.6 343.0L1048.2 339.4L1056.2 338.4L1064.2 339.8L1068.7 342.4L1071.0 346.9L1071.3 350.4L1076.7 351.3L1084.7 349.6L1093.6 347.2L1096.2 343.7L1105.1 346.5L1108.7 351.3L1114.0 349.6L1118.4 354.0L1121.1 357.2L1126.8 357.6L1122.0 361.1L1120.2 367.3L1117.6 371.8L1114.9 378.0L1111.3 378.9L1108.7 375.3L1106.0 375.7L1104.2 380.7L1102.4 388.7L1100.1 393.1L1101.2 400.2L1104.2 402.9L1109.0 402.9L1111.3 405.6L1113.1 412.7M381.2 411.1L378.0 416.4L376.2 420.0L379.8 423.0L386.9 424.8L394.9 425.3L400.2 424.4L404.3 423.0L410.9 424.8L418.9 425.3L425.1 427.1L427.8 430.3L432.2 428.4L438.4 430.7L442.9 433.0L445.2 429.8L450.9 429.8L454.4 430.7L456.2 437.8L454.4 444.9L452.1 450.2L453.9 457.3L456.2 463.6L461.6 465.3L468.7 465.3L474.4 469.2L470.4 473.3L469.0 479.6L472.2 484.9L477.6 490.2L482.9 487.6L490.9 484.5M247.9 678.7L249.1 673.3L255.3 671.6L260.7 668.0L265.1 665.3L264.2 659.1L266.0 651.1L268.7 649.7L271.3 652.4L275.8 653.2L281.1 657.0L285.2 658.8L286.4 663.0L290.9 662.3L294.4 661.2L303.3 661.4L310.4 659.6L314.9 662.7L321.1 660.0L325.6 655.9L335.3 654.1L343.3 649.9L347.8 652.0L351.3 655.6L355.8 652.9L360.2 651.1L362.5 646.7L362.0 639.6L362.9 636.0L363.4 628.0L365.6 623.6L370.9 620.0L378.0 618.8L384.2 620.4L391.3 624.4L399.3 622.7L405.6 620.4L410.9 616.1L413.6 612.0L412.1 608.4L409.1 604.9L408.2 600.4L403.8 595.1L405.6 593.7L413.6 597.8L419.8 599.6L426.0 600.8L432.2 599.0L438.4 598.7L442.0 595.1L444.1 589.8L449.1 588.0L454.8 587.6L457.1 591.6L461.6 593.7L466.0 596.5L469.6 599.6M490.9 553.7L486.4 556.9L482.0 561.3L478.4 566.7L475.4 573.8L474.0 580.9L472.2 589.8L470.4 595.1L469.6 599.6L470.4 604.0L472.2 607.6L475.8 607.2L476.7 603.1L480.2 600.4L482.0 596.0L485.6 593.3L490.9 592.1M489.1 484.9L494.4 481.3L498.9 482.2L502.4 485.8L504.2 488.4L513.1 488.8L520.2 486.7L528.2 482.2L534.4 476.0L538.0 471.6L543.3 467.5L550.4 465.0L556.7 463.2L562.9 459.1L566.8 457.9L570.0 459.1L570.9 464.4L573.6 468.0L575.0 473.3L573.9 479.2L566.4 486.7L557.6 492.9L548.7 497.3L543.3 501.8L538.0 504.1L531.8 502.3L530.5 508.0L528.2 516.9L523.8 524.9L518.4 529.3L513.1 530.2L514.9 534.7L512.2 537.3L511.0 544.4L516.7 545.3L524.1 544.1L520.2 548.0L512.2 552.1L505.1 550.7L498.0 549.2L493.6 552.4L489.1 554.9M573.9 479.2L576.6 482.2L576.2 487.6L575.0 492.9L578.0 495.6L581.6 497.0L579.8 500.0L578.4 503.6L578.9 508.9L581.6 513.7L585.1 516.4L589.6 514.2L594.9 510.7L601.1 509.4L607.3 508.9L612.7 510.1L615.3 513.3L614.8 516.0L620.7 514.2L624.2 516.9L626.9 519.9L632.2 519.0L633.6 513.3L638.4 511.6L639.0 508.0L634.9 505.3L629.6 503.6L628.3 499.1L630.1 490.2L630.4 482.2L631.3 476.0L636.7 474.2L636.7 470.3L632.2 468.9L631.9 464.4L629.6 460.9L632.2 453.8L628.7 449.7L624.2 442.2L618.9 439.6L616.2 434.2L612.7 427.1L612.3 423.6L614.1 419.1L611.8 415.6L608.2 411.1M676.7 411.1L682.9 414.7L689.1 420.0L695.3 424.4L698.9 429.8L703.7 433.0L701.9 436.0L703.3 439.6L711.3 443.1L714.9 446.7L717.6 452.9L719.0 460.0L718.4 465.3L720.2 468.5L726.4 468.0L730.9 464.4L732.7 459.1L733.6 452.0L736.2 450.8L738.0 453.8L738.0 460.0L740.7 463.6L746.0 461.4L749.9 460.4L751.3 467.1L752.2 475.1L747.8 480.4L742.4 486.7L739.8 490.8L746.0 488.8L743.3 495.6L742.8 502.7L738.0 505.3L735.0 507.6L740.7 508.9L744.2 513.3L743.3 516.9L746.9 519.6L748.7 524.9L754.9 527.6L758.4 533.8L762.0 540.9L767.3 547.1L774.4 549.8L778.9 549.2L785.1 552.4L790.4 553.7L795.8 550.7L800.2 556.4L804.7 558.1L810.9 559.2M489.1 592.3L494.4 593.7L497.1 598.7L499.8 604.0L503.3 610.2L506.9 613.8L511.3 615.6L514.0 614.7L514.0 620.9L512.2 628.0L509.6 636.0L507.4 643.1L503.3 645.8L499.8 651.1L497.1 655.6L499.8 660.0L500.7 666.2L504.2 672.4L506.0 678.7M537.1 678.7L540.7 673.3L545.1 668.9L555.8 668.9L562.0 671.6L569.1 673.7L575.3 671.9L579.8 671.2L582.8 673.3L583.7 678.7M516.7 678.7L519.3 675.5L523.8 676.0L528.2 678.7M809.1 558.7L814.4 562.2L818.9 566.7L822.8 566.3L822.8 561.3L827.8 558.7L828.7 552.4L831.3 548.5L836.7 546.8L843.8 544.4L852.7 542.3L857.1 537.9L860.7 536.4L866.9 538.6L871.3 539.6L874.0 543.6L878.4 543.2L882.9 547.1L886.4 551.6L890.9 555.1L897.1 556.0L899.8 560.4L905.1 564.0L912.2 566.7L912.2 569.3L908.7 574.7L905.1 579.1L899.8 580.5L896.2 579.1L893.6 582.7L887.9 587.1L890.0 589.4L896.2 590.3L907.8 590.1L912.2 594.2L918.4 597.8L919.9 601.3L916.7 604.0L916.7 608.4L920.2 611.1L926.4 609.7L932.7 609.0L938.0 611.5L941.6 614.3L942.4 618.2L946.9 623.2L944.2 625.3L946.0 630.7L942.4 633.3L938.0 633.3L933.6 636.9L927.3 640.4L926.4 644.0L931.8 646.3L932.7 650.2L929.1 653.8L923.8 656.4L918.4 658.2L914.9 663.6L912.8 668.9L908.7 668.9L903.3 670.1L897.1 667.1L889.1 661.8L885.6 661.8L881.1 663.6L879.3 661.8L874.0 659.6L865.1 661.8L862.4 664.4L857.1 664.4L852.7 662.3L852.3 665.3L854.4 670.7L859.8 675.1L860.7 678.7M1030.4 678.7L1030.4 671.6L1027.8 669.8L1031.3 668.0L1033.1 662.7L1037.6 657.3L1035.8 653.8L1041.1 650.2L1042.9 644.9L1044.7 639.6L1049.1 634.2L1051.4 631.0L1055.3 633.9L1058.9 634.2L1059.2 628.0L1061.6 633.3L1066.0 631.6L1069.6 626.2L1074.0 623.6L1080.2 617.3L1084.7 612.0L1088.2 609.7L1092.7 610.2L1099.8 609.0L1105.1 608.1L1106.5 602.2L1101.6 603.1L1098.0 600.8L1105.1 600.4L1106.0 593.3L1107.2 588.0L1104.2 587.1L1100.1 588.0L1106.0 582.7L1101.6 578.2L1106.0 577.3L1110.4 572.0L1106.9 567.6L1112.2 568.4L1116.7 565.8L1114.0 563.1L1120.2 563.1L1125.6 564.0L1122.9 559.6L1119.3 554.2L1124.7 552.4L1121.1 547.1L1119.3 542.7L1124.7 540.0L1120.2 536.4L1112.2 531.1L1117.6 530.2L1124.7 529.3L1130.9 530.2M1112.2 411.1L1111.3 416.4L1114.0 420.9L1114.4 428.0L1112.2 433.3L1113.1 438.7L1116.7 436.9L1120.2 434.2L1124.7 436.9L1130.9 437.8M1127.1 436.5L1134.2 437.8L1138.7 441.3L1145.8 441.3L1148.4 444.9L1144.9 450.2L1146.7 453.8L1153.8 455.6L1161.8 460.9L1167.1 463.6L1172.4 462.7L1176.9 465.3L1179.6 471.6L1182.2 473.9L1188.4 468.9L1191.1 469.8L1192.9 474.2L1196.4 475.6L1201.8 473.3L1208.9 473.3L1216.9 468.9L1222.2 468.0L1228.4 469.8L1233.8 476.0L1240.0 482.2L1242.7 485.8L1240.9 489.9M1224.0 482.2L1230.2 480.4L1235.6 486.7L1240.9 489.9L1245.3 483.1L1244.4 479.6L1252.4 480.4L1262.2 476.0L1267.6 470.3L1270.2 472.4L1265.8 483.1L1272.9 478.7L1275.6 473.3L1276.4 465.3L1278.2 462.1L1280.9 465.3L1287.1 466.2L1285.3 472.4L1283.6 476.9L1288.9 477.8L1295.1 473.3L1299.6 467.1L1299.6 463.6L1293.3 463.6L1295.1 453.8L1290.7 450.2L1288.9 444.9L1291.6 440.1L1293.3 445.8L1299.6 439.6L1301.3 443.1L1306.7 444.9L1304.9 450.2L1301.3 453.8L1305.8 458.2L1311.1 453.8L1312.0 459.1L1315.6 460.9L1314.7 467.1L1317.3 473.3L1320.9 468.9L1326.2 470.7L1328.0 463.6L1324.4 457.3L1322.7 453.2L1329.8 453.2L1330.7 459.1L1335.1 458.2L1330.7 463.6L1333.3 468.9L1336.9 472.4L1344.0 471.6L1349.3 469.8L1351.1 474.2L1356.4 474.2L1356.8 482.2L1351.1 484.0L1346.7 486.7L1348.4 490.2L1354.7 491.1L1357.3 493.8L1361.8 490.2L1366.2 487.6L1370.7 488.4L1376.0 485.8L1383.1 487.6L1390.2 484.9L1396.4 480.4L1399.1 474.2L1394.7 468.9L1388.4 468.0L1393.8 463.6L1398.2 459.1L1401.8 460.0L1399.1 465.3L1402.7 470.7L1406.2 474.2L1407.1 480.4L1413.3 484.9L1418.7 485.8L1416.9 478.7L1420.4 477.8L1422.2 483.1L1427.6 484.9L1436.4 484.5M1436.4 490.2L1432.9 495.6L1425.8 497.3L1419.6 499.1L1418.7 506.2L1417.8 514.2L1411.6 516.9L1408.9 522.2L1411.6 527.6L1408.9 534.7L1408.0 541.8L1410.7 548.9L1416.9 549.8L1418.7 556.0L1420.4 563.1L1426.7 561.3L1420.4 564.9L1416.0 567.6L1420.4 570.2L1424.9 575.6L1425.8 580.9L1432.9 583.6L1436.4 587.1M1436.4 589.8L1430.2 590.7L1428.4 593.3L1432.9 598.7L1433.8 604.0L1432.9 607.6L1436.4 607.6M1336.9 678.7L1343.1 669.8L1351.1 668.0L1360.0 664.4L1363.6 660.0L1359.1 658.2L1358.2 650.2L1363.6 646.7L1367.1 641.3L1372.4 638.7L1376.0 641.3L1383.1 642.2L1388.4 646.7L1393.8 644.9L1400.0 644.0L1394.7 641.3L1395.6 636.9L1400.9 632.4L1408.0 630.3L1413.3 629.8L1415.1 633.3L1420.4 634.2L1425.8 637.8L1429.3 633.9L1436.4 632.4M1363.6 655.6L1372.4 652.0L1370.7 656.4L1373.3 659.1L1368.0 657.3L1363.6 655.6M1351.6 528.4L1352.5 526.7L1354.7 526.3L1356.1 527.9L1355.6 530.2L1353.2 530.8L1351.6 528.4M1284.4 475.1L1288.9 471.6L1295.1 469.8L1297.8 465.3L1299.6 467.1L1296.0 473.3L1288.9 477.8L1284.4 477.8L1284.4 475.1M247.9 677.1L249.1 678.9L248.2 682.4L242.9 686.9L240.8 690.8L242.9 696.7L244.7 700.2L240.8 702.0L243.8 704.7L246.1 710.0L245.6 718.9L241.1 722.4L236.7 726.0L234.9 731.3L230.1 736.3L233.1 739.3L236.7 742.4L238.4 752.7L240.8 764.2L239.7 770.4L234.0 771.7L226.9 772.2L221.6 775.4L216.2 778.4L208.2 779.0L204.7 774.9L201.1 773.1L202.9 777.6L205.6 782.0L209.1 789.1L210.0 794.4L213.6 798.9L217.6 800.7L219.8 795.3L222.4 794.4L227.8 796.8L229.0 799.8L226.5 803.3L231.3 810.4L234.9 818.4L234.0 820.6L237.6 824.7L240.2 830.0L235.8 833.6L233.1 838.0L233.1 843.3L231.9 844.2L235.8 848.7L239.3 853.1L240.2 857.6L248.2 864.7L257.1 872.3L262.4 875.3L266.9 883.3L272.2 887.8L273.1 894.0L280.2 900.2L287.3 906.4L291.8 911.8L291.8 916.2L294.4 920.1L301.6 920.7L306.0 924.2L310.4 930.4L312.2 934.9L315.4 937.6L312.2 940.8L314.9 944.7M170.9 898.4L175.3 904.7L176.2 910.9L178.9 917.1L181.0 913.6L186.0 911.8L191.7 914.4L186.9 915.9L182.1 915.3L183.3 920.7L186.0 926.9L183.9 934.0L188.7 936.7L186.9 940.2L189.6 944.7M583.7 677.1L582.1 681.6L578.0 683.7L575.0 688.7L575.0 694.0L578.5 696.7L579.8 702.9L580.7 709.1L581.0 715.3L586.0 720.7L590.4 726.0L586.0 730.4L583.9 735.8L580.3 741.1L580.7 749.1L578.4 755.3L581.9 760.7L578.0 765.1L573.9 768.7L572.7 773.1L566.4 776.7L562.9 781.1L561.1 785.6L564.7 790.0L570.0 793.2L573.2 795.3L570.9 800.7L571.8 805.1L574.4 808.7L572.1 815.8L574.4 821.6L569.1 825.2L566.4 830.9L562.9 835.3L558.4 838.0L557.9 844.2L554.0 847.8L554.0 854.0L551.3 861.1L546.9 866.8L547.8 870.0L555.8 871.8L562.9 876.2L571.4 879.8L575.0 875.0L578.0 873.6L582.4 866.8L589.6 861.1L596.7 856.7L596.3 854.0L603.8 853.1L612.7 847.8L611.2 846.0L615.3 840.7L620.7 837.1L629.6 835.3L632.2 826.4L634.9 819.9L639.3 821.6L646.1 824.1L653.6 816.7L663.3 806.4L668.7 805.6L673.1 806.9L674.9 811.3L679.3 814.9L683.8 819.3L688.2 822.9L691.8 823.8L697.1 828.2L702.4 830.0L712.2 830.0L715.8 832.7L714.9 838.9L714.9 843.3L722.9 846.0L722.0 840.7L727.3 838.9L732.7 834.4L739.8 830.0L749.6 825.9L755.8 828.8L760.2 825.6L761.1 822.0L760.6 815.8L762.9 814.0L767.3 812.2L770.0 804.2L772.7 801.6L783.3 799.2L781.6 795.3L777.1 792.7L779.8 787.3L785.1 784.7L793.1 783.8L799.3 785.6L810.9 786.8M506.0 677.1L514.0 680.7L516.7 677.1M526.4 677.1L533.6 681.6L538.0 677.1M860.7 677.1L861.9 679.8L857.6 683.3L855.3 687.8L848.2 690.4L842.9 694.0L838.4 697.6L838.1 699.7L842.9 701.1L848.2 705.6L855.3 706.4L863.3 709.1L869.6 712.7L872.6 718.0L876.7 718.5L882.9 722.4L888.2 726.0L892.7 730.4L898.9 730.4L903.3 734.0L908.7 739.3L914.9 744.1L922.0 749.1L930.9 750.9L939.8 750.9L943.0 754.8L950.4 755.3L957.6 758.9L962.0 758.9L966.4 764.2L966.8 766.9L962.9 768.7L960.2 774.0L958.4 781.1L961.1 786.4L966.4 790.9L966.8 796.2L973.6 801.6L978.5 802.4L980.3 808.7L986.0 811.3L989.6 807.8L994.0 808.7L997.6 812.2L998.8 816.7L1002.9 821.1L1006.4 825.6L1009.1 830.9L1009.5 838.9L1013.6 845.1L1018.0 851.3L1020.7 858.4L1029.6 862.9L1039.3 872.7L1050.0 884.2L1060.7 894.0L1069.2 900.6L1072.2 899.9L1074.0 896.7L1076.7 898.4L1076.7 903.8L1079.3 908.2L1085.6 916.2L1087.3 922.4L1092.7 926.0L1099.8 927.8L1101.6 926.9L1101.6 944.7M1030.4 677.1L1029.6 686.0L1026.5 688.7L1029.6 693.1L1030.4 699.3L1027.8 702.9L1024.2 706.4L1022.4 712.7L1021.6 718.9L1016.2 720.7L1012.7 724.2L1010.9 731.3L1012.7 738.4L1018.0 743.8L1022.4 748.2L1026.0 752.7L1027.8 758.9L1032.2 766.9L1039.3 776.7L1046.4 784.7L1052.7 791.8L1058.9 798.9L1062.4 801.6L1067.8 803.3L1074.9 808.7L1082.0 814.9L1084.7 818.4L1090.0 814.9L1091.8 820.2L1096.2 827.3L1100.7 832.7L1096.2 837.1L1092.7 839.8L1093.6 846.9L1096.2 853.1L1099.8 858.4L1105.1 866.4L1110.4 875.3L1117.6 884.2L1123.8 891.3L1130.9 896.3M1016.2 743.8L1020.7 742.9L1019.8 746.4L1016.2 743.8M1024.2 752.7L1027.8 754.4L1026.9 761.6L1024.2 760.7L1024.2 752.7M1078.4 815.8L1083.8 814.9L1082.9 821.1L1078.4 815.8M1076.7 848.7L1087.3 850.4L1094.4 855.8L1089.1 857.6L1086.4 854.0L1080.2 851.3L1076.7 848.7M809.1 786.1L815.3 789.1L822.4 791.8L830.4 792.7L835.8 795.3L839.3 799.8L842.9 796.2L848.2 794.4L852.7 796.2L857.1 802.4L861.6 810.4L866.0 817.6L872.2 824.7L877.6 834.4L880.2 839.8L887.3 845.1L891.8 852.2L895.3 857.6L901.6 862.9L909.6 867.3L918.4 871.8L923.8 876.2L927.3 880.7L931.8 885.1L933.6 891.3L933.2 903.8L932.7 907.3L929.1 916.2L925.6 924.2L925.6 930.4L927.3 938.4L926.4 944.7M1337.8 677.1L1331.6 682.4L1324.4 686.0L1319.1 690.4L1312.4 691.9L1310.2 697.6L1306.3 702.0L1306.7 708.2L1311.1 710.0L1311.6 714.4L1307.6 717.1L1304.9 719.8L1306.7 726.0L1308.1 731.3L1308.8 736.7L1306.3 743.8L1309.3 748.2L1312.0 753.6L1313.4 761.6L1312.9 768.7L1311.1 774.0L1312.9 777.9L1320.9 779.3L1326.2 782.0L1332.4 785.6L1336.9 787.3L1342.2 790.9L1351.1 790.9L1356.4 792.7L1357.3 797.1L1359.1 798.9L1365.3 796.8L1376.0 796.8L1386.7 798.5L1392.0 801.6L1393.8 804.2L1388.4 807.4L1394.7 805.6L1397.3 802.4L1398.2 809.6L1402.7 809.9L1401.8 806.9L1408.0 803.9L1411.6 806.9L1415.1 804.2L1416.0 793.6L1416.9 788.2L1422.2 787.3L1424.9 789.6L1430.2 786.8L1436.4 786.1M1408.9 800.7L1413.3 798.9L1414.2 803.3L1410.7 804.6L1408.9 800.7M1119.1 888.1L1130.7 897.6L1141.3 906.4L1151.1 912.7L1157.3 917.1L1158.8 923.3L1162.7 928.7L1167.1 934.0L1173.3 939.3L1179.6 944.7M1160.0 936.7L1165.3 934.4L1164.4 937.9L1160.9 938.4L1160.0 936.7M188.7 943.1L187.8 949.3L190.4 955.6L194.9 959.6L198.4 956.8L200.6 967.1L202.0 976.0L205.6 972.4L214.4 970.7L223.3 971.0L229.6 970.3L234.0 967.1L238.4 968.0L232.2 970.3L228.7 975.1L226.9 982.2L227.2 989.3L229.6 996.4L227.8 1004.4L226.0 1012.4L221.9 1015.1L221.6 1020.4L225.1 1025.8L230.4 1030.2L235.4 1033.8L237.2 1039.1L236.1 1047.1L238.4 1052.4L239.3 1061.3L242.0 1070.2L241.1 1076.4L243.8 1081.2L239.3 1083.6L237.2 1088.0L238.4 1093.3L241.1 1098.7L246.4 1101.3L245.6 1107.6L245.6 1115.6L241.1 1119.6L245.6 1120.9L246.1 1127.1L243.8 1133.3L246.4 1138.7L249.1 1149.3L253.6 1148.4L253.6 1141.3L256.2 1145.8L258.9 1140.4L261.6 1147.6L262.4 1152.0L266.9 1156.4L262.4 1153.8L258.0 1150.2L253.2 1152.9L254.4 1158.2L257.1 1165.3L260.7 1171.6L261.6 1176.9L264.2 1173.7L262.4 1180.4L263.3 1186.7L267.8 1194.7L273.1 1200.9L274.9 1205.3L274.0 1210.7M211.8 976.0L218.0 973.3L223.3 976.0L224.2 982.2L223.0 990.2L222.4 999.1L219.8 1003.6L216.6 1001.8L215.9 996.4L211.2 993.8L213.0 988.4L210.5 981.3L211.8 976.0M229.6 1062.8L231.3 1064.9L231.9 1069.3L230.8 1072.0L229.6 1068.4L229.6 1062.8M315.8 943.1L311.3 946.7L308.3 951.1L311.3 954.7L313.1 959.1L318.4 962.7L319.3 968.9L322.9 973.3L326.8 978.7L326.1 982.2L327.3 988.4L329.1 995.6L331.8 995.9L336.2 990.6L341.6 986.7L343.3 980.4L345.1 977.4L347.8 981.3L352.2 984.9L352.8 990.2L351.3 997.3L346.9 1002.7L346.0 1008.0L343.3 1012.4L340.7 1013.0L336.2 1011.2L330.0 1011.6L326.4 1015.1L323.8 1018.7L317.9 1018.7L320.8 1024.0L320.2 1031.1L320.8 1038.2L318.4 1045.3L317.2 1050.7L317.2 1061.3L318.4 1068.4L319.9 1076.4L319.7 1084.4L316.7 1088.9L313.6 1085.3L310.4 1084.4L303.3 1086.2L301.6 1090.7L302.4 1096.0L298.0 1094.2L292.7 1092.4L288.2 1096.9L285.6 1100.1L281.1 1100.8L282.4 1104.9L279.9 1110.2L281.1 1114.7L283.4 1117.3L283.8 1122.7L286.4 1128.9L287.3 1136.0L290.0 1141.3L294.4 1147.6L300.7 1153.8L306.0 1159.1L308.7 1167.1L312.2 1169.8L317.6 1180.4L323.8 1188.4L330.0 1192.9L333.6 1193.8L338.0 1200.0L347.8 1207.1L354.9 1210.7M742.4 1210.7L745.1 1205.3L746.0 1200.9L751.3 1198.6L758.4 1192.9L764.7 1189.0L772.7 1187.2L781.6 1185.4L790.4 1184.9L794.9 1182.2L797.6 1183.1L802.9 1179.6L810.9 1178.3M926.4 943.1L928.8 953.8L926.4 960.9L925.6 968.0L927.3 973.3L934.4 976.9L938.9 981.3L941.6 987.6L947.8 992.0L952.2 995.6L953.6 1000.9L953.6 1006.2L956.7 1011.6L964.7 1014.8L973.6 1017.8L984.2 1020.1L991.7 1021.9L991.0 1024.4L986.9 1026.7L985.6 1031.1L987.8 1037.3L991.3 1044.4L994.9 1046.8L1002.0 1046.2L1009.1 1048.9L1013.6 1054.2L1014.4 1059.6L1012.7 1066.7L1010.9 1073.8L1010.0 1078.2L1005.6 1081.2L998.8 1083.6L997.0 1087.1L1000.2 1089.8L1005.6 1090.1L1005.9 1094.8L1000.2 1098.7L995.8 1103.1L993.5 1109.3L995.8 1112.9L1001.6 1115.6L1003.8 1119.1L1008.8 1122.1L1004.1 1125.7L1004.7 1129.8L1001.6 1133.3L1002.4 1136.9L998.8 1140.4L999.9 1145.8L998.8 1154.7L1000.6 1161.8L998.4 1168.0L994.0 1173.3L991.3 1177.2L986.9 1179.0L980.7 1181.3L973.6 1184.4L967.3 1185.8L964.7 1190.2L961.1 1196.4L955.8 1198.2L951.3 1195.6L947.8 1189.3L947.8 1182.2L942.4 1180.4L935.3 1179.0L929.1 1176.0L922.9 1178.7L919.3 1176.9L913.1 1178.7L908.7 1183.1L902.4 1183.1L897.1 1184.9L886.4 1183.1L877.6 1180.1L870.4 1181.3L869.6 1179.6L865.1 1183.1L860.7 1182.2L853.6 1185.4L847.3 1184.0L842.0 1186.1L833.1 1183.1L820.7 1181.3L819.8 1176.9L817.1 1175.6L813.6 1179.6L809.1 1180.1M967.3 1185.8L969.1 1192.0L973.6 1199.1L978.9 1205.3L985.1 1208.9L993.1 1208.0L1002.9 1203.6L1009.1 1206.2L1016.2 1208.9L1022.4 1210.7M1060.7 1210.7L1056.2 1201.8L1050.9 1196.4L1049.1 1190.2L1045.0 1186.7L1046.4 1184.0L1052.7 1185.4L1056.2 1183.1L1066.0 1183.1L1068.7 1178.7L1070.4 1171.6L1078.4 1176.0L1087.3 1174.8L1091.2 1173.3L1090.9 1169.8L1094.4 1167.1L1095.3 1163.6L1099.4 1161.8L1101.6 1168.4L1110.4 1174.2L1119.3 1177.8L1124.7 1185.8L1130.9 1189.7M1101.6 943.1L1101.2 956.4L1105.1 961.8L1110.4 965.3L1111.9 973.3L1114.9 979.6L1120.2 982.2L1125.6 976.9L1130.9 971.0M1178.7 943.1L1187.6 951.1L1196.4 958.2L1203.6 963.6L1208.9 968.0L1212.4 971.6L1216.0 973.3L1221.3 979.6L1226.7 985.8L1224.9 990.2L1229.3 994.7L1235.6 995.6L1238.2 989.3L1243.6 992.0L1248.0 989.9L1251.6 997.3L1256.9 1000.9L1264.9 1001.8L1261.3 1007.1L1260.4 1012.4L1265.8 1016.0L1267.6 1009.8L1272.9 1008.9L1278.2 1009.8L1272.9 1014.2L1270.2 1018.7L1272.9 1024.0L1280.0 1032.9L1284.4 1035.6L1286.2 1040.9L1292.4 1050.7L1299.6 1060.4L1306.7 1070.2L1311.1 1071.1L1312.9 1076.4L1318.2 1081.8L1324.4 1080.0L1326.2 1085.3L1332.4 1089.8L1333.3 1095.1L1337.8 1096.9L1335.1 1101.3L1333.3 1105.8L1334.2 1112.9L1336.0 1120.0L1339.6 1128.9L1343.1 1136.9L1347.6 1144.9L1351.1 1152.0L1350.2 1163.6L1354.7 1175.1L1359.1 1187.6L1362.7 1196.4L1362.7 1202.7L1366.2 1207.1L1365.3 1210.7M1305.8 1075.6L1308.4 1072.9L1311.1 1075.6L1308.4 1078.2L1305.8 1075.6M1190.2 959.6L1198.2 961.8L1208.9 968.0L1205.3 968.0L1196.4 963.6L1190.2 959.6M1320.9 1088.0L1324.4 1084.4L1326.2 1087.6L1322.7 1089.8L1320.9 1088.0M1120.0 982.2L1125.3 976.0L1129.8 971.6L1133.3 973.3L1134.2 979.6L1139.6 985.8L1144.0 993.8L1155.6 996.4L1160.0 1002.7L1166.2 1008.9L1175.1 1014.2L1181.3 1016.9L1188.4 1016.5L1190.2 1020.4L1186.7 1025.8L1180.4 1032.0L1173.3 1034.7L1165.3 1037.3L1161.8 1043.6L1162.7 1048.9L1167.1 1052.4L1170.7 1059.6L1176.9 1064.9L1183.1 1071.1L1190.2 1072.0L1194.7 1077.3L1201.8 1080.9L1205.3 1087.1L1209.8 1093.3L1211.6 1098.7L1208.9 1104.0L1207.1 1110.2L1203.6 1115.6L1197.3 1117.3L1191.1 1119.1L1191.1 1123.6L1196.4 1128.0L1201.8 1132.4L1198.2 1137.8L1194.7 1142.2L1197.3 1148.4L1198.2 1152.9L1196.4 1157.3L1193.8 1163.6L1190.2 1166.2L1187.6 1164.4L1180.4 1160.9L1173.3 1163.6L1168.0 1169.8L1160.9 1172.4L1154.7 1178.7L1148.4 1177.8L1141.3 1185.8L1136.9 1186.7L1130.7 1189.3L1125.3 1185.8L1120.0 1179.6M1198.2 1152.9L1198.2 1160.0L1195.6 1168.0L1189.3 1175.1L1184.0 1180.4L1181.9 1189.3L1182.6 1196.4L1180.1 1204.4L1177.8 1210.7M274.9 1204.1L273.1 1212.1L269.9 1219.2L272.2 1228.1L274.9 1234.3L272.2 1240.6L274.0 1246.8L278.8 1250.3L278.4 1256.6L276.7 1261.9L281.1 1264.6L282.0 1256.6L283.8 1245.9L282.9 1235.2L281.1 1224.6L282.0 1213.0L286.4 1219.2L287.3 1228.1L288.2 1238.8L287.3 1245.9L293.6 1248.6L298.0 1256.6L302.4 1263.7L306.9 1270.8L309.6 1279.7L312.2 1288.6L317.6 1294.8L321.1 1299.2L322.0 1309.9L324.7 1320.6L327.3 1331.2L328.2 1337.4L324.7 1340.1L330.9 1342.8L330.0 1349.0L326.4 1357.9L329.1 1363.2L333.6 1365.9L327.3 1367.7L323.8 1373.0L327.3 1378.3L332.7 1382.8L330.0 1386.3L322.9 1387.2L317.6 1390.8L321.1 1396.1L328.2 1393.4L333.6 1393.4L329.1 1399.7L326.4 1405.9L330.0 1409.4L334.4 1412.1M255.3 1233.4L258.0 1233.4L257.5 1240.6L255.3 1240.6L255.3 1233.4M287.3 1297.4L290.0 1296.6L292.7 1306.3L297.1 1309.9L294.4 1315.2L294.4 1325.9L292.7 1324.1L290.0 1313.4L287.3 1302.8L287.3 1297.4M247.9 1336.6L250.9 1337.4L251.4 1340.1L249.1 1341.0L247.3 1338.7L247.9 1336.6M246.8 1357.0L250.0 1357.9L250.4 1362.3L248.2 1362.9L246.8 1359.7L246.8 1357.0M286.4 1361.4L290.0 1359.7L292.7 1364.1L290.0 1367.7L286.4 1365.0L286.4 1361.4M294.4 1348.1L301.6 1350.8L305.1 1357.9L307.8 1356.1L309.6 1361.4L306.9 1370.3L301.6 1378.3L297.1 1383.7L293.6 1381.9L297.1 1373.9L295.3 1365.0L293.6 1356.1L294.4 1348.1M311.3 1365.9L314.0 1365.9L314.9 1372.1L312.2 1375.7L310.4 1371.2L311.3 1365.9M258.0 1380.1L264.2 1376.6L272.2 1373.9L274.0 1378.3L269.6 1381.0L265.1 1384.6L263.3 1389.0L258.9 1384.6L258.0 1380.1M268.7 1389.0L274.0 1387.2L276.7 1391.7L274.9 1396.1L277.6 1401.4L273.1 1399.7L268.7 1395.2L268.7 1389.0M306.0 1412.1L306.9 1405.0L312.2 1412.1M343.3 1204.1L349.6 1208.6L355.8 1211.2L358.4 1217.4L365.6 1226.3L370.9 1231.7L372.7 1240.6L377.1 1246.8L378.0 1258.3L380.7 1269.0L380.7 1279.7L378.9 1288.6L380.7 1293.9L378.0 1297.4L372.7 1298.9L371.8 1306.3L370.9 1311.7L376.2 1317.9L378.9 1327.7L382.4 1336.6L385.1 1343.7L390.4 1348.1L396.7 1354.3L402.0 1358.8L401.1 1366.8L400.2 1370.3L402.9 1375.7L404.7 1382.8L407.3 1389.9L409.1 1398.8L406.4 1402.3L410.9 1403.2L415.3 1401.4L414.4 1406.8L413.6 1412.1M452.7 1412.1L458.0 1404.1L461.6 1397.0L460.7 1389.9L459.8 1381.0L460.7 1373.9L457.1 1365.0L456.2 1354.3L456.2 1345.4L458.0 1336.6L461.6 1327.7L465.1 1320.6L470.4 1311.7L468.7 1304.6L463.3 1297.4L458.0 1292.1L455.3 1287.7L460.7 1283.2L461.6 1277.9L468.7 1275.2L478.4 1270.8L486.4 1267.2L490.9 1268.5M489.1 1268.6L497.1 1269.4L507.8 1268.1L516.7 1266.3L517.6 1258.3L519.3 1258.0L518.4 1264.6L525.6 1267.2L536.2 1269.9L546.9 1271.7L554.9 1271.7L557.6 1268.6L557.2 1275.2L555.8 1282.3L551.3 1286.8L552.2 1293.9L549.6 1299.2L551.3 1306.3L546.9 1311.7L551.3 1318.8L546.9 1324.1L544.2 1329.4L549.6 1333.9L549.6 1340.1L544.2 1342.8L543.3 1347.2L545.1 1351.7L550.4 1350.8L552.2 1356.1L555.8 1357.0L556.1 1352.6L560.2 1349.9L566.4 1348.6L575.3 1349.4L586.0 1351.7L594.9 1355.2L599.3 1357.5L601.1 1354.3L607.3 1352.6L613.6 1352.9L615.3 1351.7L622.4 1350.8L625.1 1347.2L629.6 1346.3L634.9 1346.7L639.3 1349.9L643.8 1355.2L647.3 1359.7L650.9 1363.2L652.7 1357.0L650.9 1361.4L657.1 1360.6L659.8 1367.7L666.0 1362.3L663.3 1368.6L669.6 1373.0L674.9 1378.3L678.4 1382.8L681.1 1384.6L682.9 1389.9L684.7 1395.2L688.2 1397.9L690.9 1396.1L697.1 1397.9L703.3 1400.6L708.7 1404.1L711.3 1408.6L714.0 1412.1M675.8 1373.0L681.1 1373.9L682.0 1378.3L685.6 1373.0L686.4 1379.2L690.9 1380.1L690.9 1384.6L686.4 1386.3L682.9 1382.8M694.4 1412.1L689.1 1404.1L684.7 1400.2L680.2 1400.6L684.7 1412.1M711.3 1412.1L710.4 1402.3L712.2 1396.1L715.8 1394.3L719.3 1398.8L719.3 1402.3L724.7 1405.9L730.0 1412.1M746.0 1204.1L743.3 1212.1L741.6 1218.3L737.1 1222.8L733.6 1228.1L730.0 1234.3L726.4 1239.7L721.1 1244.1L714.0 1247.7L709.6 1252.1L710.4 1255.7L715.8 1258.0L709.6 1261.0L699.8 1261.9L688.2 1262.8L687.0 1265.4L688.2 1272.6L688.2 1283.2L690.0 1292.1L694.4 1301.0L699.8 1311.7L704.2 1317.9L702.4 1322.3L703.3 1329.4L705.1 1338.3L703.3 1345.4L705.1 1350.8L712.2 1356.1L721.1 1363.2L726.4 1365.9L726.4 1369.4L730.9 1373.0L729.1 1380.1L726.4 1386.3L725.6 1395.2L722.9 1401.4L726.4 1405.9L730.9 1412.1M978.9 1204.1L983.3 1208.6L989.6 1208.9L996.7 1205.9L1002.9 1204.1M1005.6 1204.1L1010.9 1207.7L1016.2 1209.4L1022.4 1210.7L1026.0 1214.8L1031.3 1221.0L1038.4 1226.3L1046.4 1227.8L1056.2 1227.2L1057.1 1221.0L1062.4 1215.7L1063.3 1213.0L1060.7 1209.4L1058.9 1204.1M1121.1 1412.1L1124.7 1409.1L1130.9 1408.6M1177.8 1204.1L1180.4 1210.3L1181.3 1217.4L1187.6 1219.2L1190.2 1226.3L1189.3 1231.7L1189.3 1239.7L1194.7 1245.9L1200.0 1254.8L1205.3 1264.6L1207.1 1274.3L1205.3 1283.2L1200.9 1293.9L1195.6 1306.3L1191.1 1316.1L1193.8 1318.8L1192.9 1324.1L1195.6 1331.2L1200.0 1337.4L1200.9 1347.2L1202.7 1357.9L1200.9 1366.8L1199.1 1373.9L1196.4 1381.0L1190.2 1386.3L1186.7 1390.8L1183.1 1389.0L1178.7 1383.7L1173.3 1383.1L1162.7 1386.7L1155.6 1392.6L1146.7 1401.4L1139.6 1407.3L1130.7 1409.1L1119.1 1409.4M1366.2 1204.1L1368.0 1215.7L1368.9 1222.8L1368.0 1231.7L1366.2 1237.9L1364.4 1244.1L1366.2 1253.0L1365.3 1258.3L1368.9 1263.7L1368.0 1270.8L1366.2 1276.1L1370.7 1279.7L1368.0 1285.0L1371.6 1292.1L1373.3 1301.0L1376.9 1309.9L1383.1 1318.8L1387.6 1325.0L1388.4 1329.4L1384.0 1333.0L1379.6 1337.4L1373.3 1341.9L1367.1 1347.2L1363.6 1352.6L1362.7 1359.7L1365.3 1365.0L1368.9 1369.4L1373.3 1373.0L1376.0 1376.6L1373.3 1380.1L1368.0 1381.0L1363.6 1375.7L1359.1 1371.2L1357.3 1373.9L1360.9 1378.3L1364.4 1382.8L1366.2 1389.9L1363.6 1396.1L1365.3 1402.3L1363.6 1407.7L1364.4 1412.1M1366.2 1231.7L1372.4 1230.8L1372.4 1243.2L1367.1 1242.3L1366.2 1231.7M1366.2 1270.8L1376.0 1271.7L1375.1 1277.9L1370.7 1278.8L1366.2 1276.1M1369.8 1288.6L1373.3 1289.4L1373.3 1293.0L1370.3 1293.0L1369.8 1288.6M1368.0 1393.4L1376.0 1392.6L1376.9 1396.6L1368.9 1397.7L1368.0 1393.4M1374.2 1354.3L1379.6 1347.2L1383.1 1352.6L1388.4 1349.9L1386.7 1359.7L1381.3 1361.4L1374.2 1354.3M1378.7 1337.4L1381.3 1345.4L1384.9 1347.2M1104.2 575.0L1108.3 570.8L1106.2 566.7L1110.0 569.6L1114.2 568.3L1116.7 566.7L1113.3 562.9L1115.8 562.1L1120.8 562.1L1124.2 560.4L1126.2 559.2L1127.5 564.6L1124.6 560.0L1122.9 557.1L1120.4 555.4L1118.8 552.5L1121.7 550.8L1122.5 548.3L1118.3 545.8L1117.1 544.2L1120.8 542.1L1123.8 543.3L1125.0 546.7L1129.2 547.9L1131.7 551.7L1134.2 553.3L1135.0 550.8L1132.9 547.5L1130.8 544.2L1129.2 540.8L1127.1 539.6L1125.4 537.5L1129.2 536.7L1128.8 533.3L1126.7 530.4L1122.9 531.2L1120.4 530.0L1116.7 531.2L1111.7 530.4L1114.2 533.3L1115.0 536.7L1118.3 537.9L1122.9 537.5L1125.0 540.0L1127.1 539.6M1132.1 533.3L1135.0 533.3L1138.3 537.5L1140.8 542.1L1136.7 541.2L1133.8 538.3L1132.1 533.3M1132.5 533.3L1135.8 535.0L1140.0 537.5L1145.0 537.9L1148.3 536.7L1149.2 534.2L1146.2 532.5L1146.7 530.8L1151.7 529.2L1156.7 529.2L1161.7 528.8L1158.3 531.2L1155.0 533.3L1153.3 536.7L1156.7 537.5L1160.0 538.3L1162.5 539.6L1165.8 538.3L1167.1 535.0L1169.2 533.3L1174.2 532.5L1179.2 531.7L1182.5 530.0L1182.9 527.5L1181.7 525.0L1182.5 520.8L1183.8 516.7L1185.0 513.3L1183.3 514.2L1181.2 513.3L1182.1 509.2L1182.5 505.4L1186.7 504.6L1190.0 504.2L1187.1 501.7L1188.3 500.4L1192.5 502.1L1196.7 502.5L1198.3 498.8L1200.0 502.1L1204.2 503.8L1206.2 500.4L1209.2 495.8L1212.5 492.9L1215.0 493.8L1220.0 491.7L1222.5 488.3L1223.8 485.0L1220.8 482.9L1225.0 482.1M1182.5 505.4L1190.4 505.4L1193.3 506.7L1196.2 509.2L1199.2 512.1L1206.2 511.5L1204.2 514.2L1199.2 516.7L1195.8 519.2L1192.5 522.9L1187.5 525.4L1183.3 527.9L1182.9 527.5M1190.4 505.4L1190.0 511.7L1187.1 513.3L1185.4 517.5L1183.8 521.7L1182.9 526.7M1191.7 551.2L1195.0 546.7L1198.3 541.7L1201.7 535.0L1204.2 528.3L1206.2 521.7L1209.2 520.8L1207.5 525.8L1205.0 532.5L1202.5 538.3L1199.2 544.2L1195.8 549.2L1193.3 551.7L1191.7 551.2M1178.8 544.2L1184.2 542.1L1190.0 539.6L1194.2 536.7L1195.8 530.8L1199.2 528.8L1201.7 530.0L1198.3 533.3L1196.7 538.3L1193.3 541.7L1187.5 543.8L1184.2 545.8L1180.8 545.8L1178.8 544.2M1137.5 549.2L1140.8 547.5L1142.1 545.0L1144.2 546.7L1148.3 546.2L1151.2 547.5L1151.7 550.8L1155.0 550.4L1157.5 552.1L1155.0 554.2L1152.9 555.8L1154.6 558.3L1152.5 562.1L1150.0 561.2L1146.7 559.2L1144.2 556.7L1141.7 553.3L1138.3 551.7L1137.5 549.2" fill="none" stroke="#000" stroke-width="1.9" stroke-linejoin="round" stroke-linecap="round"/>
<path d="M1016.2 743.8L1020.7 742.9L1019.8 746.4ZM1024.2 752.7L1027.8 754.4L1026.9 761.6L1024.2 760.7ZM1078.4 815.8L1083.8 814.9L1082.9 821.1ZM1076.7 848.7L1087.3 850.4L1094.4 855.8L1089.1 857.6L1086.4 854.0L1080.2 851.3ZM1160.0 936.7L1165.3 934.4L1164.4 937.9L1160.9 938.4ZM1190.2 959.6L1198.2 961.8L1208.9 968.0L1205.3 968.0L1196.4 963.6ZM1332.4 1104.9L1335.1 1104.0L1335.5 1107.6L1333.0 1107.9ZM1249.8 997.3L1253.3 996.4L1256.9 1000.9L1252.4 1000.5ZM1264.9 1015.1L1270.2 1014.2L1271.1 1022.2L1265.8 1022.2ZM1215.8 502.9L1221.7 499.2L1227.5 496.2L1235.0 494.2L1245.0 492.9L1241.7 495.8L1235.0 497.1L1228.3 498.8L1221.7 501.2L1216.7 503.8ZM1179.6 549.2L1181.2 548.3L1184.6 550.8L1184.6 553.3L1182.1 552.5L1180.0 551.2ZM1218.3 539.2L1220.4 536.7L1223.3 534.6L1221.7 533.3L1219.2 532.1L1221.7 531.2L1225.0 533.3L1224.2 535.4L1221.7 537.5L1219.2 539.6ZM1226.2 534.2L1227.5 530.8L1230.0 529.2L1230.8 530.8L1228.3 533.8ZM1150.0 551.7L1155.0 550.8L1157.1 552.5L1154.6 555.0L1154.2 558.3L1152.1 561.7L1150.0 560.0L1151.2 555.0ZM1145.8 531.2L1151.7 529.3L1161.7 528.8L1158.3 531.0L1151.7 532.1L1146.7 533.3ZM1203.3 526.7L1206.2 522.1L1208.8 521.2L1207.1 526.2L1204.6 532.5L1201.7 538.3L1198.3 544.2L1194.6 550.0L1192.1 551.2L1195.4 545.8L1198.8 540.0L1201.7 533.3Z" fill="#000" stroke="#000" stroke-width="1.2" stroke-linejoin="round"/>
</g>
<rect x="170.7" y="146.5" width="1266.8" height="1265.9" fill="none" stroke="#000" stroke-width="3.1"/>
<text x="307.4" y="63.5" font-size="50" xml:space="preserve">rf(mm) 20251029_15 to 20251029_18</text>
<text x="397.7" y="121.3" font-size="50" xml:space="preserve">Simulation Time: 20251027_12</text>
<text x="50.9" y="1232.4" font-size="41.67" textLength="99.1" lengthAdjust="spacingAndGlyphs">14°N</text>
<text x="50.9" y="1035.4" font-size="41.67" textLength="99.1" lengthAdjust="spacingAndGlyphs">16°N</text>
<text x="50.9" y="839.4" font-size="41.67" textLength="99.1" lengthAdjust="spacingAndGlyphs">18°N</text>
<text x="50.9" y="643.4" font-size="41.67" textLength="99.1" lengthAdjust="spacingAndGlyphs">20°N</text>
<text x="50.9" y="447.4" font-size="41.67" textLength="99.1" lengthAdjust="spacingAndGlyphs">22°N</text>
<text x="50.9" y="251.4" font-size="41.67" textLength="99.1" lengthAdjust="spacingAndGlyphs">24°N</text>
<text x="214.4" y="1466.2" font-size="41.67" textLength="99.1" lengthAdjust="spacingAndGlyphs">98°E</text>
<text x="398.0" y="1466.2" font-size="41.67" textLength="123.9" lengthAdjust="spacingAndGlyphs">100°E</text>
<text x="594.0" y="1466.2" font-size="41.67" textLength="123.9" lengthAdjust="spacingAndGlyphs">102°E</text>
<text x="790.0" y="1466.2" font-size="41.67" textLength="123.9" lengthAdjust="spacingAndGlyphs">104°E</text>
<text x="987.0" y="1466.2" font-size="41.67" textLength="123.9" lengthAdjust="spacingAndGlyphs">106°E</text>
<text x="1183.0" y="1466.2" font-size="41.67" textLength="123.9" lengthAdjust="spacingAndGlyphs">108°E</text>
<rect x="1516.7" y="1277.74" width="63.5" height="134.56" fill="#5b53a4"/>
<rect x="1516.7" y="1143.79" width="63.5" height="134.56" fill="#4e63ac"/>
<rect x="1516.7" y="1009.83" width="63.5" height="134.56" fill="#3880b9"/>
<rect x="1516.7" y="875.88" width="63.5" height="134.56" fill="#60bba8"/>
<rect x="1516.7" y="741.92" width="63.5" height="134.56" fill="#bae3a1"/>
<rect x="1516.7" y="607.97" width="63.5" height="134.56" fill="#f5fbaf"/>
<rect x="1516.7" y="474.01" width="63.5" height="134.56" fill="#fee18d"/>
<rect x="1516.7" y="340.06" width="63.5" height="134.56" fill="#fa9b58"/>
<rect x="1516.7" y="206.10" width="63.5" height="134.56" fill="#d43d4f"/>
<path d="M1516.7 206.4L1548.5 145.9L1580.2 206.4Z" fill="#9e0142"/>
<path d="M1516.7 1412.0V206.4L1548.5 145.9L1580.2 206.4V1412.0Z" fill="none" stroke="#000" stroke-width="3.1" stroke-linejoin="miter"/>
<text x="1610.0" y="1427.2" font-size="41.67">2</text>
<text x="1610.0" y="1293.2" font-size="41.67">5</text>
<text x="1610.0" y="1159.3" font-size="41.67">10</text>
<text x="1610.0" y="1025.3" font-size="41.67">20</text>
<text x="1610.0" y="891.4" font-size="41.67">40</text>
<text x="1610.0" y="757.4" font-size="41.67">60</text>
<text x="1610.0" y="623.5" font-size="41.67">80</text>
<text x="1610.0" y="489.5" font-size="41.67">100</text>
<text x="1610.0" y="355.6" font-size="41.67">120</text>
<text x="1610.0" y="221.6" font-size="41.67">150</text>
<path d="M1580.2 1412.0H1595.0M1580.2 1278.0H1595.0M1580.2 1144.1H1595.0M1580.2 1010.1H1595.0M1580.2 876.2H1595.0M1580.2 742.2H1595.0M1580.2 608.3H1595.0M1580.2 474.3H1595.0M1580.2 340.4H1595.0M1580.2 206.4H1595.0" stroke="#000" stroke-width="3.1" fill="none"/>
</svg></body></html>
